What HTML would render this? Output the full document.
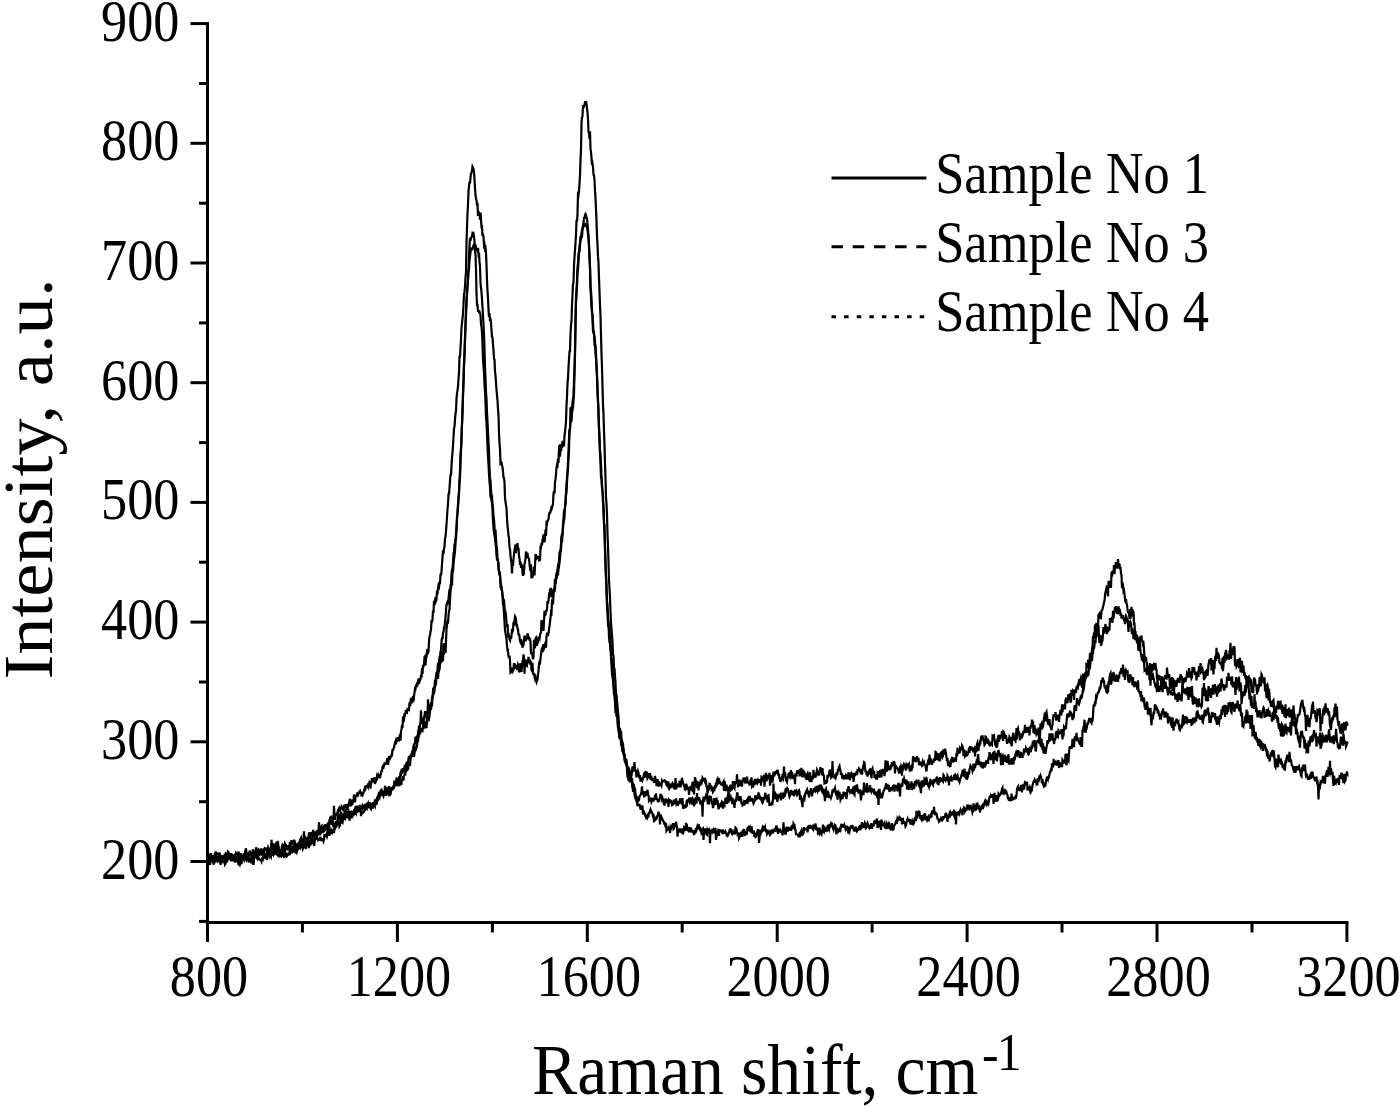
<!DOCTYPE html>
<html><head><meta charset="utf-8"><title>Raman spectra</title>
<style>
html,body{margin:0;padding:0;background:#fff;}
body{width:1400px;height:1107px;overflow:hidden;}
svg{display:block;}
text{font-family:"Liberation Serif","Times New Roman",serif;fill:#000;}
</style></head><body>
<svg width="1400" height="1107" viewBox="0 0 1400 1107">
<rect width="1400" height="1107" fill="#fff"/>
<g fill="none" stroke="#000" stroke-width="2.2" stroke-linejoin="miter">
<polyline points="207.5,861.6 208.0,860.6 208.5,860.3 209.0,862.4 209.5,861.8 210.0,864.8 210.5,860.3 211.0,860.3 211.5,860.6 212.0,859.4 212.5,862.3 213.0,858.7 213.5,858.2 214.0,858.3 214.5,855.7 215.0,856.9 215.5,858.9 216.0,855.6 216.5,856.2 217.0,859.2 217.5,858.5 218.0,858.4 218.5,859.2 219.0,858.4 219.5,860.6 220.0,860.4 220.5,864.9 221.0,862.3 221.5,858.5 222.0,861.3 222.5,861.1 223.0,858.4 223.5,859.7 224.0,861.7 224.5,856.8 225.0,857.6 225.5,859.5 226.0,860.0 226.5,856.0 227.0,859.6 227.5,856.9 228.0,859.8 228.5,858.1 229.0,857.0 229.5,858.6 230.0,858.6 230.5,856.8 231.0,861.4 231.5,858.1 232.0,860.4 232.5,858.3 233.0,856.6 233.5,855.1 234.0,859.5 234.5,860.8 235.0,862.5 235.5,860.2 236.0,859.9 236.5,858.8 237.0,860.9 237.5,861.8 238.0,858.3 238.5,863.5 239.0,862.9 239.5,864.0 240.0,858.6 240.5,859.3 241.0,858.7 241.5,856.3 242.0,856.7 242.5,856.4 243.0,858.5 243.5,858.4 244.0,859.8 244.5,857.4 245.0,856.3 245.5,859.4 246.0,859.8 246.5,860.5 247.0,858.2 247.5,858.8 248.0,860.8 248.5,858.0 249.0,859.7 249.5,860.7 250.0,859.9 250.5,860.9 251.0,859.0 251.5,860.4 252.0,861.6 252.5,859.0 253.0,858.7 253.5,864.8 254.0,858.3 254.5,855.8 255.0,855.0 255.5,858.3 256.0,851.9 256.5,855.5 257.0,857.1 257.5,855.6 258.0,857.8 258.5,860.1 259.0,858.4 259.5,859.2 260.0,859.7 260.5,860.2 261.0,860.1 261.5,861.4 262.0,858.9 262.5,857.8 263.0,858.9 263.5,857.0 264.0,854.7 264.5,853.8 265.0,855.6 265.5,856.5 266.0,854.9 266.5,855.1 267.0,860.0 267.5,857.3 268.0,855.2 268.5,854.4 269.0,857.1 269.5,853.4 270.0,856.2 270.5,855.1 271.0,856.4 271.5,853.2 272.0,855.6 272.5,851.3 273.0,853.4 273.5,854.7 274.0,853.6 274.5,849.3 275.0,852.8 275.5,852.4 276.0,851.5 276.5,851.1 277.0,852.2 277.5,852.2 278.0,855.1 278.5,854.7 279.0,855.9 279.5,854.8 280.0,852.3 280.5,854.3 281.0,857.4 281.5,852.6 282.0,855.0 282.5,853.8 283.0,853.9 283.5,851.8 284.0,856.7 284.5,856.4 285.0,850.7 285.5,856.5 286.0,852.6 286.5,856.5 287.0,856.0 287.5,855.0 288.0,854.9 288.5,853.0 289.0,855.4 289.5,851.8 290.0,850.1 290.5,852.0 291.0,850.8 291.5,851.3 292.0,853.3 292.5,850.2 293.0,849.9 293.5,852.6 294.0,846.5 294.5,849.1 295.0,850.6 295.5,851.7 296.0,853.5 296.5,849.4 297.0,851.6 297.5,850.1 298.0,849.2 298.5,847.9 299.0,846.0 299.5,848.1 300.0,848.4 300.5,845.4 301.0,848.3 301.5,846.3 302.0,845.5 302.5,842.8 303.0,848.4 303.5,847.3 304.0,845.3 304.5,842.1 305.0,842.6 305.5,844.9 306.0,843.4 306.5,843.8 307.0,842.8 307.5,840.1 308.0,838.9 308.5,843.2 309.0,839.9 309.5,845.0 310.0,843.8 310.5,845.5 311.0,842.7 311.5,840.9 312.0,841.2 312.5,838.9 313.0,839.6 313.5,840.1 314.0,842.3 314.5,840.5 315.0,840.1 315.5,837.1 316.0,839.6 316.5,837.8 317.0,838.6 317.5,839.1 318.0,840.1 318.5,839.4 319.0,838.7 319.5,838.2 320.0,840.6 320.5,837.0 321.0,838.6 321.5,840.9 322.0,838.3 322.5,839.9 323.0,839.8 323.5,841.2 324.0,839.2 324.5,834.0 325.0,836.0 325.5,835.8 326.0,835.9 326.5,834.4 327.0,836.3 327.5,834.5 328.0,830.5 328.5,831.4 329.0,829.2 329.5,835.8 330.0,832.9 330.5,832.8 331.0,830.2 331.5,831.7 332.0,832.6 332.5,830.6 333.0,830.1 333.5,829.3 334.0,833.2 334.5,828.4 335.0,826.2 335.5,827.2 336.0,826.0 336.5,826.3 337.0,825.1 337.5,822.8 338.0,823.7 338.5,824.2 339.0,820.7 339.5,826.3 340.0,825.4 340.5,818.7 341.0,820.6 341.5,822.4 342.0,822.4 342.5,822.8 343.0,816.3 343.5,817.6 344.0,818.5 344.5,820.0 345.0,816.4 345.5,818.0 346.0,816.7 346.5,815.9 347.0,811.2 347.5,813.0 348.0,812.2 348.5,811.0 349.0,814.0 349.5,811.4 350.0,814.9 350.5,811.9 351.0,816.7 351.5,817.1 352.0,812.9 352.5,814.8 353.0,814.5 353.5,811.7 354.0,814.5 354.5,814.0 355.0,811.2 355.5,812.7 356.0,813.7 356.5,811.1 357.0,809.1 357.5,812.3 358.0,806.5 358.5,808.2 359.0,805.4 359.5,811.9 360.0,804.9 360.5,808.8 361.0,816.1 361.5,811.3 362.0,813.5 362.5,813.4 363.0,812.2 363.5,811.5 364.0,811.7 364.5,810.8 365.0,803.9 365.5,810.4 366.0,804.8 366.5,807.1 367.0,802.6 367.5,804.8 368.0,803.7 368.5,808.2 369.0,806.3 369.5,806.4 370.0,806.1 370.5,807.1 371.0,804.5 371.5,804.9 372.0,804.3 372.5,807.1 373.0,805.4 373.5,804.1 374.0,805.4 374.5,805.2 375.0,806.2 375.5,801.7 376.0,802.7 376.5,805.0 377.0,799.6 377.5,798.5 378.0,799.1 378.5,796.1 379.0,795.9 379.5,794.1 380.0,792.9 380.5,795.7 381.0,793.1 381.5,791.8 382.0,793.2 382.5,793.6 383.0,794.7 383.5,796.2 384.0,794.9 384.5,792.5 385.0,794.5 385.5,791.3 386.0,794.9 386.5,795.0 387.0,792.2 387.5,791.3 388.0,790.9 388.5,789.8 389.0,793.9 389.5,796.3 390.0,790.0 390.5,795.1 391.0,790.3 391.5,786.8 392.0,789.6 392.5,789.1 393.0,787.7 393.5,785.8 394.0,788.9 394.5,784.4 395.0,785.5 395.5,784.9 396.0,781.2 396.5,778.8 397.0,779.3 397.5,781.2 398.0,782.8 398.5,778.8 399.0,781.3 399.5,786.2 400.0,779.8 400.5,784.2 401.0,783.7 401.5,783.8 402.0,778.3 402.5,780.8 403.0,776.0 403.5,780.3 404.0,774.5 404.5,775.8 405.0,772.1 405.5,772.8 406.0,768.2 406.5,770.8 407.0,770.3 407.5,767.9 408.0,770.1 408.5,766.3 409.0,761.9 409.5,764.2 410.0,765.8 410.5,758.8 411.0,757.9 411.5,755.1 412.0,755.4 412.5,752.2 413.0,751.1 413.5,747.8 414.0,744.3 414.5,743.8 415.0,743.7 415.5,736.5 416.0,743.4 416.5,737.6 417.0,736.5 417.5,736.3 418.0,733.6 418.5,729.6 419.0,731.2 419.5,734.0 420.0,732.6 420.5,732.5 421.0,727.9 421.5,729.4 422.0,730.4 422.5,730.8 423.0,726.8 423.5,723.9 424.0,721.2 424.5,728.7 425.0,721.5 425.5,725.6 426.0,725.9 426.5,728.1 427.0,721.8 427.5,719.6 428.0,719.5 428.5,718.2 429.0,718.9 429.5,716.1 430.0,711.2 430.5,706.2 431.0,709.9 431.5,704.7 432.0,706.5 432.5,696.0 433.0,696.0 433.5,690.2 434.0,693.8 434.5,691.0 435.0,685.1 435.5,682.3 436.0,683.1 436.5,677.5 437.0,676.8 437.5,674.2 438.0,679.0 438.5,672.4 439.0,670.8 439.5,669.8 440.0,664.3 440.5,662.7 441.0,650.8 441.5,662.1 442.0,660.7 442.5,658.0 443.0,661.2 443.5,643.3 444.0,654.8 444.5,646.6 445.0,643.2 445.5,652.9 446.0,640.8 446.5,629.2 447.0,625.0 447.5,619.8 448.0,623.6 448.5,615.6 449.0,610.8 449.5,610.2 450.0,600.8 450.5,589.3 451.0,588.5 451.5,581.5 452.0,585.4 452.5,571.3 453.0,571.3 453.5,564.3 454.0,559.5 454.5,555.4 455.0,551.9 455.5,541.2 456.0,533.0 456.5,527.7 457.0,519.4 457.5,512.3 458.0,507.5 458.5,498.9 459.0,492.5 459.5,481.8 460.0,478.2 460.5,460.7 461.0,448.8 461.5,441.8 462.0,423.4 462.5,411.3 463.0,393.2 463.5,380.0 464.0,363.7 464.5,352.5 465.0,337.4 465.5,323.5 466.0,311.2 466.5,303.8 467.0,291.8 467.5,286.0 468.0,278.2 468.5,270.0 469.0,269.8 469.5,260.3 470.0,256.5 470.5,252.3 471.0,249.0 471.5,249.5 472.0,249.3 472.5,247.9 473.0,247.0 473.5,245.7 474.0,243.7 474.5,247.4 475.0,251.9 475.5,253.9 476.0,269.3 476.5,292.7 477.0,305.0 477.5,304.9 478.0,310.8 478.5,310.8 479.0,311.9 479.5,311.6 480.0,313.5 480.5,314.8 481.0,323.8 481.5,327.2 482.0,332.1 482.5,343.3 483.0,358.9 483.5,366.4 484.0,372.4 484.5,384.3 485.0,391.1 485.5,401.8 486.0,417.2 486.5,422.9 487.0,433.0 487.5,446.3 488.0,456.7 488.5,464.0 489.0,474.3 489.5,481.8 490.0,486.3 490.5,497.6 491.0,493.4 491.5,501.8 492.0,495.2 492.5,510.6 493.0,521.3 493.5,527.3 494.0,532.3 494.5,535.2 495.0,538.4 495.5,542.9 496.0,547.3 496.5,555.1 497.0,559.7 497.5,560.4 498.0,561.3 498.5,564.0 499.0,571.3 499.5,573.9 500.0,573.5 500.5,586.0 501.0,585.7 501.5,588.4 502.0,590.6 502.5,594.9 503.0,604.7 503.5,605.4 504.0,614.3 504.5,622.0 505.0,630.1 505.5,633.0 506.0,635.6 506.5,638.5 507.0,646.0 507.5,650.3 508.0,650.1 508.5,656.3 509.0,657.1 509.5,655.7 510.0,660.3 510.5,672.8 511.0,672.4 511.5,671.2 512.0,669.3 512.5,667.8 513.0,670.7 513.5,669.4 514.0,663.1 514.5,668.3 515.0,663.7 515.5,667.0 516.0,666.5 516.5,667.3 517.0,668.8 517.5,668.5 518.0,664.6 518.5,665.7 519.0,672.2 519.5,671.1 520.0,665.3 520.5,663.3 521.0,669.9 521.5,671.9 522.0,666.3 522.5,661.8 523.0,662.1 523.5,654.4 524.0,658.0 524.5,673.6 525.0,664.4 525.5,659.3 526.0,666.7 526.5,665.0 527.0,665.5 527.5,661.3 528.0,660.7 528.5,657.0 529.0,660.8 529.5,663.3 530.0,659.7 530.5,665.0 531.0,661.4 531.5,669.9 532.0,670.9 532.5,662.8 533.0,671.9 533.5,675.2 534.0,673.1 534.5,676.5 535.0,678.7 535.5,677.4 536.0,680.7 536.5,682.1 537.0,680.0 537.5,679.9 538.0,674.7 538.5,671.1 539.0,664.0 539.5,662.1 540.0,662.7 540.5,659.1 541.0,654.4 541.5,650.0 542.0,648.8 542.5,651.3 543.0,651.2 543.5,644.2 544.0,648.9 544.5,647.9 545.0,646.2 545.5,641.9 546.0,647.8 546.5,636.3 547.0,633.7 547.5,633.7 548.0,636.1 548.5,633.2 549.0,629.6 549.5,626.1 550.0,622.1 550.5,617.7 551.0,612.4 551.5,613.1 552.0,601.8 552.5,602.6 553.0,604.4 553.5,595.0 554.0,589.9 554.5,592.2 555.0,588.3 555.5,581.5 556.0,577.2 556.5,575.4 557.0,572.3 557.5,569.8 558.0,565.6 558.5,566.0 559.0,559.8 559.5,553.0 560.0,550.8 560.5,550.6 561.0,543.8 561.5,535.6 562.0,542.2 562.5,535.1 563.0,527.8 563.5,522.8 564.0,520.5 564.5,517.5 565.0,506.6 565.5,504.1 566.0,495.7 566.5,492.5 567.0,482.1 567.5,473.0 568.0,470.0 568.5,457.8 569.0,449.7 569.5,430.8 570.0,429.6 570.5,420.5 571.0,419.6 571.5,410.0 572.0,411.0 572.5,402.5 573.0,398.7 573.5,396.1 574.0,380.4 574.5,369.7 575.0,354.1 575.5,317.4 576.0,299.0 576.5,288.9 577.0,281.1 577.5,267.4 578.0,262.9 578.5,254.4 579.0,251.9 579.5,251.4 580.0,245.3 580.5,240.2 581.0,237.3 581.5,233.0 582.0,230.6 582.5,227.8 583.0,225.7 583.5,227.2 584.0,223.4 584.5,225.4 585.0,225.6 585.5,224.4 586.0,224.9 586.5,223.6 587.0,227.4 587.5,230.1 588.0,234.1 588.5,237.2 589.0,244.4 589.5,257.1 590.0,268.4 590.5,287.1 591.0,298.0 591.5,306.4 592.0,310.0 592.5,318.5 593.0,331.4 593.5,332.5 594.0,332.3 594.5,342.3 595.0,341.4 595.5,353.3 596.0,358.3 596.5,365.5 597.0,375.7 597.5,386.8 598.0,398.8 598.5,416.0 599.0,427.7 599.5,439.7 600.0,452.8 600.5,463.1 601.0,477.4 601.5,478.8 602.0,487.8 602.5,490.8 603.0,495.7 603.5,511.6 604.0,524.4 604.5,524.9 605.0,543.8 605.5,563.1 606.0,576.5 606.5,584.7 607.0,606.7 607.5,613.4 608.0,624.1 608.5,623.6 609.0,636.9 609.5,642.2 610.0,642.1 610.5,650.3 611.0,652.2 611.5,657.7 612.0,662.0 612.5,668.9 613.0,673.9 613.5,684.5 614.0,686.4 614.5,689.4 615.0,700.6 615.5,702.9 616.0,708.0 616.5,709.4 617.0,715.2 617.5,717.3 618.0,719.3 618.5,726.1 619.0,730.3 619.5,734.0 620.0,738.9 620.5,735.5 621.0,742.5 621.5,741.5 622.0,744.6 622.5,752.0 623.0,748.5 623.5,748.6 624.0,753.8 624.5,754.0 625.0,758.2 625.5,760.9 626.0,759.5 626.5,759.9 627.0,764.6 627.5,768.3 628.0,769.2 628.5,767.8 629.0,768.3 629.5,771.4 630.0,772.8 630.5,777.6 631.0,778.1 631.5,781.9 632.0,782.1 632.5,788.1 633.0,786.9 633.5,790.2 634.0,790.2 634.5,793.9 635.0,797.1 635.5,798.3 636.0,794.8 636.5,798.9 637.0,802.5 637.5,806.2 638.0,804.5 638.5,804.5 639.0,804.9 639.5,804.7 640.0,806.3 640.5,809.7 641.0,807.4 641.5,806.9 642.0,806.2 642.5,806.5 643.0,814.5 643.5,810.4 644.0,812.8 644.5,813.0 645.0,815.3 645.5,815.0 646.0,816.5 646.5,819.3 647.0,815.0 647.5,816.9 648.0,815.1 648.5,815.7 649.0,812.2 649.5,813.7 650.0,810.8 650.5,809.3 651.0,810.6 651.5,811.9 652.0,812.2 652.5,814.3 653.0,817.6 653.5,813.9 654.0,822.3 654.5,817.7 655.0,820.3 655.5,816.7 656.0,819.3 656.5,818.9 657.0,816.5 657.5,815.7 658.0,814.8 658.5,811.7 659.0,814.2 659.5,815.1 660.0,824.5 660.5,814.2 661.0,816.0 661.5,818.7 662.0,818.2 662.5,819.3 663.0,820.8 663.5,821.2 664.0,822.8 664.5,824.8 665.0,822.2 665.5,827.3 666.0,823.1 666.5,830.8 667.0,829.9 667.5,827.3 668.0,830.2 668.5,827.8 669.0,828.6 669.5,828.9 670.0,833.0 670.5,827.2 671.0,828.2 671.5,826.6 672.0,826.2 672.5,825.0 673.0,823.2 673.5,829.0 674.0,828.5 674.5,823.0 675.0,826.1 675.5,825.8 676.0,821.8 676.5,824.9 677.0,827.0 677.5,836.6 678.0,830.8 678.5,831.8 679.0,830.6 679.5,832.2 680.0,828.4 680.5,831.8 681.0,832.0 681.5,828.4 682.0,831.0 682.5,833.0 683.0,833.4 683.5,832.1 684.0,827.9 684.5,828.7 685.0,827.8 685.5,831.0 686.0,822.9 686.5,827.2 687.0,826.4 687.5,829.9 688.0,830.5 688.5,828.3 689.0,828.7 689.5,829.7 690.0,832.3 690.5,827.2 691.0,829.2 691.5,829.5 692.0,830.0 692.5,831.9 693.0,831.7 693.5,831.4 694.0,834.1 694.5,833.8 695.0,832.1 695.5,831.6 696.0,828.2 696.5,829.6 697.0,827.0 697.5,825.7 698.0,826.9 698.5,824.3 699.0,826.1 699.5,827.3 700.0,829.4 700.5,828.8 701.0,830.5 701.5,833.0 702.0,832.1 702.5,829.1 703.0,828.6 703.5,839.9 704.0,831.1 704.5,829.4 705.0,829.7 705.5,829.5 706.0,831.1 706.5,834.5 707.0,834.9 707.5,830.1 708.0,831.2 708.5,829.7 709.0,829.3 709.5,832.0 710.0,843.2 710.5,830.4 711.0,832.0 711.5,829.7 712.0,831.8 712.5,828.7 713.0,831.3 713.5,830.0 714.0,831.4 714.5,833.3 715.0,830.7 715.5,827.9 716.0,840.0 716.5,834.1 717.0,834.9 717.5,832.4 718.0,831.0 718.5,832.3 719.0,835.8 719.5,829.2 720.0,832.0 720.5,830.5 721.0,830.5 721.5,830.6 722.0,831.2 722.5,834.0 723.0,829.5 723.5,831.8 724.0,832.8 724.5,832.5 725.0,832.8 725.5,831.6 726.0,832.9 726.5,834.2 727.0,836.6 727.5,833.0 728.0,834.9 728.5,833.8 729.0,832.5 729.5,830.7 730.0,831.1 730.5,828.3 731.0,831.9 731.5,832.8 732.0,831.8 732.5,834.0 733.0,833.5 733.5,831.1 734.0,833.1 734.5,829.7 735.0,834.3 735.5,827.7 736.0,828.2 736.5,829.0 737.0,831.4 737.5,834.0 738.0,833.2 738.5,833.3 739.0,838.2 739.5,837.1 740.0,834.8 740.5,835.0 741.0,832.0 741.5,834.3 742.0,836.8 742.5,831.3 743.0,830.7 743.5,833.4 744.0,829.1 744.5,836.1 745.0,831.0 745.5,832.4 746.0,833.1 746.5,835.1 747.0,832.9 747.5,828.1 748.0,827.7 748.5,830.4 749.0,825.7 749.5,828.7 750.0,827.7 750.5,831.0 751.0,832.3 751.5,826.4 752.0,829.0 752.5,833.8 753.0,832.1 753.5,833.1 754.0,832.5 754.5,836.9 755.0,835.6 755.5,837.0 756.0,836.7 756.5,833.2 757.0,832.1 757.5,835.5 758.0,829.1 758.5,831.9 759.0,842.9 759.5,838.3 760.0,832.3 760.5,833.1 761.0,829.9 761.5,831.4 762.0,830.0 762.5,828.0 763.0,829.5 763.5,828.1 764.0,829.3 764.5,828.3 765.0,827.0 765.5,830.1 766.0,831.9 766.5,829.4 767.0,833.7 767.5,832.6 768.0,831.6 768.5,832.9 769.0,832.5 769.5,831.8 770.0,834.9 770.5,834.4 771.0,831.3 771.5,831.1 772.0,830.6 772.5,832.0 773.0,833.3 773.5,829.2 774.0,830.7 774.5,829.7 775.0,830.4 775.5,831.7 776.0,827.5 776.5,825.6 777.0,829.5 777.5,827.5 778.0,833.9 778.5,829.9 779.0,829.8 779.5,831.5 780.0,831.3 780.5,830.2 781.0,831.1 781.5,833.1 782.0,831.2 782.5,835.3 783.0,832.6 783.5,822.2 784.0,833.1 784.5,827.9 785.0,831.4 785.5,834.7 786.0,832.3 786.5,828.0 787.0,828.3 787.5,826.8 788.0,831.6 788.5,827.2 789.0,830.3 789.5,828.6 790.0,827.8 790.5,827.6 791.0,830.8 791.5,829.0 792.0,824.9 792.5,828.1 793.0,827.8 793.5,823.5 794.0,824.5 794.5,824.9 795.0,829.3 795.5,830.0 796.0,834.1 796.5,834.2 797.0,834.3 797.5,834.7 798.0,835.5 798.5,836.0 799.0,837.4 799.5,834.2 800.0,834.9 800.5,833.0 801.0,834.7 801.5,833.8 802.0,830.6 802.5,831.8 803.0,834.0 803.5,833.2 804.0,827.1 804.5,830.4 805.0,829.0 805.5,829.4 806.0,829.4 806.5,829.5 807.0,828.6 807.5,832.4 808.0,829.1 808.5,826.1 809.0,825.9 809.5,826.0 810.0,825.9 810.5,828.9 811.0,825.6 811.5,827.3 812.0,827.4 812.5,828.3 813.0,826.8 813.5,828.4 814.0,826.1 814.5,826.4 815.0,827.3 815.5,823.4 816.0,827.2 816.5,829.9 817.0,828.1 817.5,828.4 818.0,833.3 818.5,832.9 819.0,833.6 819.5,827.6 820.0,832.5 820.5,831.5 821.0,833.0 821.5,834.0 822.0,830.8 822.5,830.0 823.0,824.7 823.5,831.1 824.0,832.0 824.5,830.2 825.0,828.5 825.5,829.8 826.0,830.5 826.5,829.3 827.0,831.6 827.5,826.4 828.0,824.8 828.5,828.1 829.0,829.3 829.5,825.8 830.0,826.3 830.5,824.7 831.0,823.4 831.5,824.5 832.0,822.5 832.5,827.5 833.0,828.4 833.5,829.7 834.0,826.7 834.5,827.0 835.0,825.0 835.5,825.5 836.0,830.2 836.5,834.3 837.0,827.8 837.5,829.7 838.0,832.7 838.5,829.8 839.0,831.8 839.5,829.4 840.0,828.3 840.5,829.5 841.0,826.3 841.5,823.8 842.0,827.5 842.5,826.0 843.0,825.2 843.5,824.9 844.0,827.8 844.5,825.6 845.0,827.3 845.5,829.0 846.0,827.1 846.5,829.7 847.0,825.6 847.5,830.0 848.0,830.6 848.5,833.5 849.0,830.2 849.5,831.5 850.0,828.9 850.5,826.5 851.0,826.1 851.5,825.9 852.0,828.5 852.5,825.6 853.0,827.3 853.5,829.3 854.0,830.3 854.5,830.1 855.0,831.3 855.5,826.5 856.0,827.9 856.5,829.5 857.0,831.2 857.5,830.3 858.0,828.0 858.5,829.7 859.0,826.2 859.5,830.4 860.0,824.8 860.5,827.7 861.0,828.5 861.5,827.5 862.0,822.1 862.5,825.2 863.0,824.0 863.5,824.2 864.0,828.1 864.5,825.9 865.0,823.0 865.5,824.1 866.0,827.8 866.5,827.1 867.0,824.5 867.5,823.3 868.0,825.3 868.5,826.7 869.0,827.6 869.5,825.0 870.0,827.5 870.5,828.7 871.0,823.4 871.5,825.1 872.0,828.9 872.5,824.7 873.0,825.0 873.5,826.4 874.0,822.6 874.5,822.8 875.0,820.0 875.5,824.0 876.0,821.9 876.5,822.3 877.0,818.5 877.5,828.0 878.0,825.6 878.5,823.2 879.0,827.3 879.5,820.5 880.0,825.1 880.5,821.9 881.0,830.0 881.5,819.6 882.0,822.1 882.5,822.7 883.0,825.5 883.5,825.5 884.0,824.6 884.5,823.5 885.0,828.3 885.5,823.3 886.0,825.8 886.5,829.1 887.0,823.9 887.5,824.9 888.0,828.4 888.5,824.6 889.0,823.3 889.5,824.4 890.0,829.6 890.5,825.6 891.0,828.2 891.5,827.4 892.0,823.0 892.5,830.7 893.0,829.3 893.5,829.1 894.0,825.7 894.5,825.1 895.0,824.3 895.5,823.8 896.0,821.5 896.5,820.6 897.0,823.7 897.5,818.7 898.0,819.7 898.5,819.5 899.0,818.8 899.5,817.1 900.0,817.7 900.5,820.8 901.0,818.9 901.5,818.9 902.0,824.4 902.5,819.4 903.0,819.1 903.5,823.9 904.0,820.9 904.5,822.9 905.0,823.0 905.5,826.3 906.0,825.4 906.5,822.8 907.0,820.7 907.5,819.2 908.0,821.6 908.5,818.7 909.0,820.7 909.5,820.5 910.0,821.7 910.5,824.6 911.0,821.6 911.5,822.4 912.0,821.1 912.5,823.3 913.0,822.7 913.5,824.0 914.0,823.4 914.5,819.0 915.0,817.0 915.5,820.3 916.0,820.2 916.5,810.7 917.0,818.5 917.5,814.6 918.0,813.6 918.5,814.3 919.0,811.5 919.5,811.7 920.0,818.7 920.5,815.2 921.0,818.7 921.5,819.6 922.0,815.0 922.5,818.5 923.0,820.7 923.5,814.4 924.0,817.6 924.5,814.9 925.0,813.3 925.5,819.3 926.0,819.4 926.5,816.7 927.0,816.8 927.5,820.6 928.0,820.1 928.5,817.4 929.0,818.8 929.5,817.0 930.0,816.1 930.5,817.9 931.0,815.8 931.5,817.5 932.0,810.6 932.5,814.0 933.0,810.5 933.5,814.2 934.0,806.8 934.5,813.7 935.0,811.6 935.5,815.3 936.0,813.1 936.5,813.5 937.0,816.0 937.5,818.7 938.0,819.1 938.5,819.5 939.0,821.6 939.5,821.0 940.0,818.7 940.5,821.1 941.0,818.9 941.5,820.2 942.0,820.5 942.5,819.1 943.0,816.1 943.5,818.4 944.0,817.6 944.5,817.3 945.0,816.1 945.5,814.2 946.0,812.8 946.5,816.9 947.0,816.9 947.5,821.8 948.0,814.6 948.5,818.3 949.0,815.6 949.5,813.7 950.0,815.0 950.5,812.9 951.0,814.3 951.5,813.4 952.0,814.1 952.5,813.4 953.0,812.5 953.5,814.4 954.0,815.6 954.5,811.6 955.0,812.4 955.5,811.4 956.0,824.5 956.5,813.5 957.0,815.7 957.5,812.2 958.0,815.2 958.5,812.0 959.0,811.8 959.5,813.3 960.0,810.8 960.5,809.7 961.0,812.2 961.5,809.9 962.0,812.4 962.5,815.2 963.0,809.7 963.5,809.8 964.0,807.5 964.5,808.0 965.0,811.3 965.5,810.3 966.0,809.8 966.5,809.8 967.0,806.8 967.5,804.6 968.0,809.6 968.5,807.1 969.0,808.2 969.5,805.4 970.0,807.0 970.5,804.9 971.0,806.8 971.5,807.6 972.0,809.7 972.5,812.5 973.0,811.1 973.5,803.4 974.0,808.5 974.5,808.1 975.0,809.1 975.5,807.2 976.0,808.1 976.5,804.7 977.0,805.4 977.5,804.6 978.0,809.1 978.5,807.6 979.0,806.9 979.5,809.4 980.0,812.5 980.5,808.2 981.0,809.0 981.5,808.7 982.0,806.5 982.5,807.0 983.0,805.2 983.5,806.7 984.0,805.3 984.5,805.1 985.0,801.1 985.5,800.0 986.0,800.5 986.5,802.0 987.0,804.5 987.5,803.6 988.0,802.2 988.5,803.4 989.0,800.3 989.5,797.1 990.0,796.9 990.5,795.7 991.0,797.8 991.5,795.7 992.0,796.0 992.5,795.4 993.0,794.3 993.5,803.8 994.0,801.0 994.5,792.9 995.0,801.1 995.5,799.0 996.0,795.2 996.5,801.9 997.0,798.8 997.5,798.7 998.0,799.1 998.5,794.1 999.0,795.0 999.5,795.7 1000.0,794.7 1000.5,793.7 1001.0,792.6 1001.5,794.6 1002.0,788.8 1002.5,787.8 1003.0,794.4 1003.5,791.2 1004.0,792.6 1004.5,790.8 1005.0,790.0 1005.5,790.5 1006.0,792.7 1006.5,792.3 1007.0,794.2 1007.5,795.2 1008.0,798.2 1008.5,798.8 1009.0,800.8 1009.5,797.2 1010.0,798.9 1010.5,800.2 1011.0,799.8 1011.5,793.6 1012.0,799.7 1012.5,799.5 1013.0,798.7 1013.5,798.9 1014.0,798.0 1014.5,798.7 1015.0,798.5 1015.5,796.8 1016.0,797.2 1016.5,795.1 1017.0,789.4 1017.5,787.5 1018.0,786.6 1018.5,790.0 1019.0,788.1 1019.5,791.0 1020.0,789.4 1020.5,787.7 1021.0,785.0 1021.5,786.9 1022.0,792.3 1022.5,785.6 1023.0,785.2 1023.5,786.4 1024.0,789.6 1024.5,785.7 1025.0,782.4 1025.5,782.8 1026.0,783.5 1026.5,783.9 1027.0,781.7 1027.5,790.5 1028.0,788.9 1028.5,788.4 1029.0,788.1 1029.5,787.2 1030.0,791.1 1030.5,792.5 1031.0,791.6 1031.5,788.6 1032.0,789.2 1032.5,785.5 1033.0,783.7 1033.5,781.8 1034.0,781.1 1034.5,780.0 1035.0,782.4 1035.5,780.4 1036.0,780.7 1036.5,783.7 1037.0,782.8 1037.5,783.4 1038.0,778.2 1038.5,782.2 1039.0,778.3 1039.5,775.5 1040.0,777.7 1040.5,775.6 1041.0,776.9 1041.5,779.2 1042.0,783.4 1042.5,779.0 1043.0,784.0 1043.5,783.7 1044.0,786.4 1044.5,785.9 1045.0,785.9 1045.5,785.6 1046.0,781.0 1046.5,779.0 1047.0,777.6 1047.5,777.8 1048.0,779.3 1048.5,777.1 1049.0,777.2 1049.5,774.1 1050.0,772.1 1050.5,771.9 1051.0,768.4 1051.5,771.1 1052.0,763.3 1052.5,765.5 1053.0,765.9 1053.5,761.7 1054.0,762.9 1054.5,760.8 1055.0,761.4 1055.5,764.6 1056.0,761.4 1056.5,765.6 1057.0,763.4 1057.5,765.0 1058.0,762.5 1058.5,760.1 1059.0,768.0 1059.5,765.2 1060.0,762.3 1060.5,764.8 1061.0,766.8 1061.5,763.3 1062.0,767.1 1062.5,759.8 1063.0,760.6 1063.5,763.6 1064.0,761.8 1064.5,759.9 1065.0,762.8 1065.5,753.7 1066.0,762.3 1066.5,765.2 1067.0,760.2 1067.5,753.3 1068.0,759.8 1068.5,760.7 1069.0,753.7 1069.5,747.6 1070.0,747.0 1070.5,747.1 1071.0,746.9 1071.5,748.8 1072.0,746.6 1072.5,738.7 1073.0,743.2 1073.5,742.9 1074.0,747.2 1074.5,739.7 1075.0,736.5 1075.5,738.3 1076.0,739.0 1076.5,732.9 1077.0,740.5 1077.5,737.5 1078.0,740.6 1078.5,740.8 1079.0,741.0 1079.5,743.6 1080.0,744.2 1080.5,738.0 1081.0,737.9 1081.5,739.4 1082.0,746.9 1082.5,731.2 1083.0,731.2 1083.5,727.0 1084.0,726.9 1084.5,719.7 1085.0,728.0 1085.5,732.8 1086.0,729.6 1086.5,729.0 1087.0,726.6 1087.5,722.4 1088.0,724.2 1088.5,721.4 1089.0,719.7 1089.5,720.2 1090.0,717.9 1090.5,720.3 1091.0,722.1 1091.5,723.0 1092.0,719.8 1092.5,720.2 1093.0,716.1 1093.5,706.4 1094.0,704.4 1094.5,706.6 1095.0,701.4 1095.5,704.3 1096.0,697.0 1096.5,698.0 1097.0,695.9 1097.5,693.6 1098.0,692.4 1098.5,692.5 1099.0,691.5 1099.5,688.2 1100.0,688.6 1100.5,687.8 1101.0,683.5 1101.5,680.1 1102.0,682.9 1102.5,678.7 1103.0,678.7 1103.5,681.3 1104.0,681.3 1104.5,687.3 1105.0,685.5 1105.5,688.6 1106.0,689.6 1106.5,692.3 1107.0,692.6 1107.5,684.3 1108.0,692.8 1108.5,681.6 1109.0,682.8 1109.5,678.3 1110.0,674.3 1110.5,673.3 1111.0,684.7 1111.5,682.7 1112.0,674.3 1112.5,673.2 1113.0,680.6 1113.5,672.0 1114.0,676.2 1114.5,681.4 1115.0,678.1 1115.5,681.7 1116.0,679.1 1116.5,674.4 1117.0,678.2 1117.5,675.5 1118.0,681.9 1118.5,675.6 1119.0,678.5 1119.5,674.4 1120.0,671.8 1120.5,674.1 1121.0,669.7 1121.5,668.1 1122.0,674.1 1122.5,671.3 1123.0,664.6 1123.5,676.8 1124.0,668.8 1124.5,674.5 1125.0,680.0 1125.5,672.6 1126.0,670.5 1126.5,672.0 1127.0,672.1 1127.5,670.2 1128.0,677.5 1128.5,682.1 1129.0,674.9 1129.5,682.9 1130.0,676.7 1130.5,674.3 1131.0,678.9 1131.5,678.6 1132.0,678.3 1132.5,685.1 1133.0,677.2 1133.5,684.5 1134.0,684.3 1134.5,687.2 1135.0,682.9 1135.5,682.5 1136.0,683.0 1136.5,684.7 1137.0,687.0 1137.5,689.9 1138.0,680.2 1138.5,691.0 1139.0,691.0 1139.5,692.3 1140.0,691.0 1140.5,697.0 1141.0,691.1 1141.5,701.5 1142.0,695.1 1142.5,698.2 1143.0,698.9 1143.5,702.3 1144.0,697.5 1144.5,705.6 1145.0,705.3 1145.5,709.8 1146.0,706.7 1146.5,706.2 1147.0,701.7 1147.5,705.3 1148.0,714.7 1148.5,709.1 1149.0,709.8 1149.5,711.6 1150.0,715.4 1150.5,707.9 1151.0,719.6 1151.5,725.3 1152.0,717.2 1152.5,714.9 1153.0,719.4 1153.5,711.7 1154.0,714.0 1154.5,710.1 1155.0,704.4 1155.5,707.1 1156.0,709.7 1156.5,707.4 1157.0,708.4 1157.5,711.3 1158.0,710.5 1158.5,711.4 1159.0,716.1 1159.5,713.5 1160.0,718.0 1160.5,717.6 1161.0,718.2 1161.5,715.9 1162.0,711.1 1162.5,712.9 1163.0,708.3 1163.5,713.7 1164.0,711.5 1164.5,717.7 1165.0,711.7 1165.5,714.5 1166.0,711.7 1166.5,716.3 1167.0,717.0 1167.5,713.0 1168.0,723.4 1168.5,720.5 1169.0,716.3 1169.5,719.4 1170.0,718.0 1170.5,718.6 1171.0,725.3 1171.5,720.0 1172.0,727.9 1172.5,717.2 1173.0,725.0 1173.5,730.6 1174.0,723.1 1174.5,723.1 1175.0,726.1 1175.5,720.7 1176.0,722.9 1176.5,718.7 1177.0,720.4 1177.5,722.7 1178.0,723.4 1178.5,722.4 1179.0,726.9 1179.5,729.3 1180.0,730.1 1180.5,728.4 1181.0,724.6 1181.5,728.4 1182.0,725.5 1182.5,720.0 1183.0,714.7 1183.5,720.3 1184.0,723.5 1184.5,722.6 1185.0,716.0 1185.5,723.5 1186.0,716.3 1186.5,721.7 1187.0,717.2 1187.5,721.6 1188.0,720.6 1188.5,719.1 1189.0,722.9 1189.5,719.4 1190.0,720.8 1190.5,721.1 1191.0,719.2 1191.5,724.5 1192.0,724.1 1192.5,720.9 1193.0,717.6 1193.5,721.8 1194.0,720.8 1194.5,721.4 1195.0,718.7 1195.5,717.3 1196.0,721.6 1196.5,714.7 1197.0,715.5 1197.5,710.3 1198.0,714.8 1198.5,714.7 1199.0,715.6 1199.5,719.0 1200.0,715.8 1200.5,719.8 1201.0,718.0 1201.5,718.5 1202.0,714.6 1202.5,722.1 1203.0,722.6 1203.5,716.9 1204.0,717.2 1204.5,711.9 1205.0,709.5 1205.5,716.3 1206.0,714.2 1206.5,711.6 1207.0,713.6 1207.5,709.3 1208.0,707.6 1208.5,714.2 1209.0,714.0 1209.5,723.0 1210.0,718.7 1210.5,722.9 1211.0,719.8 1211.5,716.5 1212.0,712.0 1212.5,715.1 1213.0,717.1 1213.5,715.0 1214.0,716.1 1214.5,717.0 1215.0,713.2 1215.5,720.3 1216.0,718.4 1216.5,722.1 1217.0,724.7 1217.5,716.3 1218.0,721.3 1218.5,722.3 1219.0,723.4 1219.5,719.0 1220.0,714.8 1220.5,719.1 1221.0,717.5 1221.5,709.3 1222.0,715.0 1222.5,709.0 1223.0,705.8 1223.5,710.7 1224.0,710.1 1224.5,704.9 1225.0,716.9 1225.5,705.0 1226.0,709.6 1226.5,710.0 1227.0,714.4 1227.5,705.6 1228.0,712.0 1228.5,702.5 1229.0,705.9 1229.5,704.3 1230.0,702.1 1230.5,706.4 1231.0,711.6 1231.5,712.4 1232.0,707.8 1232.5,702.0 1233.0,703.5 1233.5,708.7 1234.0,708.9 1234.5,711.8 1235.0,706.1 1235.5,703.6 1236.0,707.5 1236.5,705.0 1237.0,708.7 1237.5,700.5 1238.0,704.8 1238.5,706.4 1239.0,709.3 1239.5,711.2 1240.0,704.0 1240.5,706.9 1241.0,715.0 1241.5,714.9 1242.0,712.5 1242.5,727.2 1243.0,724.5 1243.5,725.7 1244.0,721.6 1244.5,723.0 1245.0,718.0 1245.5,716.0 1246.0,723.5 1246.5,709.6 1247.0,717.2 1247.5,711.4 1248.0,723.0 1248.5,721.9 1249.0,716.4 1249.5,715.1 1250.0,721.0 1250.5,728.9 1251.0,725.0 1251.5,719.4 1252.0,715.1 1252.5,736.5 1253.0,726.7 1253.5,725.1 1254.0,731.7 1254.5,734.5 1255.0,739.2 1255.5,731.9 1256.0,734.8 1256.5,740.8 1257.0,737.2 1257.5,742.1 1258.0,742.4 1258.5,745.9 1259.0,741.4 1259.5,738.9 1260.0,746.2 1260.5,747.2 1261.0,740.9 1261.5,742.6 1262.0,745.2 1262.5,742.8 1263.0,750.9 1263.5,745.8 1264.0,747.9 1264.5,744.0 1265.0,745.5 1265.5,746.9 1266.0,751.5 1266.5,748.8 1267.0,756.4 1267.5,750.6 1268.0,758.6 1268.5,756.2 1269.0,754.9 1269.5,761.4 1270.0,759.3 1270.5,755.1 1271.0,752.4 1271.5,756.3 1272.0,750.3 1272.5,754.1 1273.0,750.0 1273.5,754.5 1274.0,753.6 1274.5,758.1 1275.0,766.1 1275.5,767.1 1276.0,762.0 1276.5,763.0 1277.0,758.7 1277.5,764.7 1278.0,767.2 1278.5,754.6 1279.0,760.0 1279.5,763.2 1280.0,758.3 1280.5,761.0 1281.0,764.7 1281.5,761.4 1282.0,762.7 1282.5,767.7 1283.0,764.2 1283.5,767.0 1284.0,766.0 1284.5,763.8 1285.0,770.6 1285.5,760.2 1286.0,763.3 1286.5,757.8 1287.0,757.3 1287.5,754.6 1288.0,757.1 1288.5,759.2 1289.0,762.1 1289.5,751.8 1290.0,759.6 1290.5,759.6 1291.0,760.2 1291.5,763.2 1292.0,765.6 1292.5,766.1 1293.0,767.7 1293.5,769.9 1294.0,769.5 1294.5,772.9 1295.0,766.0 1295.5,773.0 1296.0,768.3 1296.5,766.2 1297.0,768.1 1297.5,770.4 1298.0,767.9 1298.5,766.6 1299.0,766.1 1299.5,769.0 1300.0,770.2 1300.5,772.5 1301.0,775.6 1301.5,776.3 1302.0,768.4 1302.5,767.4 1303.0,770.7 1303.5,764.6 1304.0,770.0 1304.5,769.8 1305.0,764.7 1305.5,771.5 1306.0,775.7 1306.5,775.0 1307.0,774.8 1307.5,776.8 1308.0,779.7 1308.5,776.5 1309.0,779.7 1309.5,777.6 1310.0,775.6 1310.5,774.5 1311.0,778.8 1311.5,774.3 1312.0,777.7 1312.5,771.6 1313.0,776.5 1313.5,777.2 1314.0,777.7 1314.5,779.3 1315.0,778.4 1315.5,779.4 1316.0,778.4 1316.5,777.9 1317.0,782.3 1317.5,781.8 1318.0,785.6 1318.5,799.4 1319.0,786.0 1319.5,785.1 1320.0,786.2 1320.5,782.2 1321.0,783.0 1321.5,781.4 1322.0,781.7 1322.5,779.7 1323.0,776.0 1323.5,778.2 1324.0,776.5 1324.5,783.7 1325.0,782.4 1325.5,775.7 1326.0,774.3 1326.5,775.9 1327.0,770.1 1327.5,776.8 1328.0,773.7 1328.5,766.8 1329.0,772.9 1329.5,773.7 1330.0,760.7 1330.5,774.8 1331.0,768.2 1331.5,772.2 1332.0,773.1 1332.5,771.9 1333.0,780.3 1333.5,785.9 1334.0,775.7 1334.5,778.9 1335.0,784.5 1335.5,781.1 1336.0,782.3 1336.5,779.9 1337.0,782.9 1337.5,778.2 1338.0,782.4 1338.5,780.7 1339.0,784.9 1339.5,775.2 1340.0,776.6 1340.5,778.7 1341.0,775.1 1341.5,775.7 1342.0,772.8 1342.5,778.7 1343.0,780.1 1343.5,783.1 1344.0,775.9 1344.5,774.2 1345.0,781.3 1345.5,780.4 1346.0,773.4 1346.5,775.3 1347.0,771.3 1347.5,776.5"/>
<polyline points="207.5,858.4 208.0,856.6 208.5,857.0 209.0,857.8 209.5,857.0 210.0,858.2 210.5,857.6 211.0,858.6 211.5,859.4 212.0,857.4 212.5,857.4 213.0,855.3 213.5,864.8 214.0,860.6 214.5,856.7 215.0,858.7 215.5,857.9 216.0,860.5 216.5,859.5 217.0,860.3 217.5,856.1 218.0,862.5 218.5,856.5 219.0,856.2 219.5,858.3 220.0,857.2 220.5,861.4 221.0,857.9 221.5,857.6 222.0,860.7 222.5,861.4 223.0,858.4 223.5,859.5 224.0,860.3 224.5,861.0 225.0,864.3 225.5,863.4 226.0,862.5 226.5,862.1 227.0,859.2 227.5,859.9 228.0,857.6 228.5,855.8 229.0,859.2 229.5,852.9 230.0,855.5 230.5,854.6 231.0,853.1 231.5,855.9 232.0,857.3 232.5,858.5 233.0,856.5 233.5,859.2 234.0,858.4 234.5,859.2 235.0,854.6 235.5,857.3 236.0,857.3 236.5,859.4 237.0,857.2 237.5,857.4 238.0,856.0 238.5,855.6 239.0,855.8 239.5,858.8 240.0,855.4 240.5,853.2 241.0,858.0 241.5,864.1 242.0,858.6 242.5,858.4 243.0,856.6 243.5,855.9 244.0,855.1 244.5,855.5 245.0,853.6 245.5,854.8 246.0,856.5 246.5,853.0 247.0,853.4 247.5,854.2 248.0,857.4 248.5,858.7 249.0,861.2 249.5,860.9 250.0,860.3 250.5,860.7 251.0,857.2 251.5,859.5 252.0,857.9 252.5,860.2 253.0,858.3 253.5,863.0 254.0,854.3 254.5,856.9 255.0,852.1 255.5,854.4 256.0,856.9 256.5,857.4 257.0,856.5 257.5,857.9 258.0,855.2 258.5,855.4 259.0,854.5 259.5,852.4 260.0,853.7 260.5,852.2 261.0,853.0 261.5,848.4 262.0,853.4 262.5,852.9 263.0,853.4 263.5,855.2 264.0,854.2 264.5,857.3 265.0,857.8 265.5,856.9 266.0,856.5 266.5,854.7 267.0,851.0 267.5,850.6 268.0,851.7 268.5,854.3 269.0,853.5 269.5,851.6 270.0,852.9 270.5,856.7 271.0,852.8 271.5,855.8 272.0,851.3 272.5,853.6 273.0,853.0 273.5,852.3 274.0,852.0 274.5,852.5 275.0,847.8 275.5,852.6 276.0,853.5 276.5,851.7 277.0,852.3 277.5,847.5 278.0,841.4 278.5,849.5 279.0,848.6 279.5,851.6 280.0,851.0 280.5,850.6 281.0,852.6 281.5,852.7 282.0,850.4 282.5,852.0 283.0,851.3 283.5,850.9 284.0,847.7 284.5,851.7 285.0,850.2 285.5,848.7 286.0,849.1 286.5,849.0 287.0,847.9 287.5,847.5 288.0,848.9 288.5,847.9 289.0,848.3 289.5,847.4 290.0,849.0 290.5,851.2 291.0,849.5 291.5,848.8 292.0,847.9 292.5,847.6 293.0,845.8 293.5,851.5 294.0,847.5 294.5,846.3 295.0,849.5 295.5,848.9 296.0,847.0 296.5,844.7 297.0,844.4 297.5,849.2 298.0,845.9 298.5,844.7 299.0,848.7 299.5,843.9 300.0,842.7 300.5,844.9 301.0,844.5 301.5,846.8 302.0,841.7 302.5,845.4 303.0,842.3 303.5,846.4 304.0,844.6 304.5,845.0 305.0,844.6 305.5,847.5 306.0,848.8 306.5,842.3 307.0,844.9 307.5,843.8 308.0,844.7 308.5,840.9 309.0,848.3 309.5,840.6 310.0,843.7 310.5,840.8 311.0,838.3 311.5,838.6 312.0,841.4 312.5,841.6 313.0,842.7 313.5,840.6 314.0,845.9 314.5,843.9 315.0,834.8 315.5,837.1 316.0,836.9 316.5,833.1 317.0,832.8 317.5,835.2 318.0,834.2 318.5,831.0 319.0,835.3 319.5,831.6 320.0,835.4 320.5,829.6 321.0,826.7 321.5,826.1 322.0,832.9 322.5,831.5 323.0,830.6 323.5,828.4 324.0,832.2 324.5,826.3 325.0,831.1 325.5,827.1 326.0,827.8 326.5,825.7 327.0,825.6 327.5,829.1 328.0,822.9 328.5,824.5 329.0,821.7 329.5,824.3 330.0,819.9 330.5,820.9 331.0,822.4 331.5,825.1 332.0,818.9 332.5,820.0 333.0,823.0 333.5,827.0 334.0,822.9 334.5,826.9 335.0,824.0 335.5,822.8 336.0,821.0 336.5,823.4 337.0,823.8 337.5,820.2 338.0,814.6 338.5,816.1 339.0,817.6 339.5,816.3 340.0,817.5 340.5,817.0 341.0,812.2 341.5,813.5 342.0,822.0 342.5,819.7 343.0,818.5 343.5,817.8 344.0,812.8 344.5,818.8 345.0,811.6 345.5,810.9 346.0,814.4 346.5,817.8 347.0,814.6 347.5,816.8 348.0,813.1 348.5,818.6 349.0,813.4 349.5,820.8 350.0,814.0 350.5,816.6 351.0,810.7 351.5,818.0 352.0,812.6 352.5,817.5 353.0,811.2 353.5,813.7 354.0,810.2 354.5,809.4 355.0,811.3 355.5,806.4 356.0,809.8 356.5,805.7 357.0,812.5 357.5,811.3 358.0,809.8 358.5,807.0 359.0,811.8 359.5,807.3 360.0,811.0 360.5,807.7 361.0,808.1 361.5,807.7 362.0,808.5 362.5,805.8 363.0,806.8 363.5,805.1 364.0,807.4 364.5,807.0 365.0,807.6 365.5,805.2 366.0,807.9 366.5,807.3 367.0,808.3 367.5,806.7 368.0,804.1 368.5,807.3 369.0,804.3 369.5,806.6 370.0,802.1 370.5,808.1 371.0,808.8 371.5,805.5 372.0,808.3 372.5,805.8 373.0,808.3 373.5,806.7 374.0,802.1 374.5,803.7 375.0,799.6 375.5,801.6 376.0,802.2 376.5,801.5 377.0,798.3 377.5,797.0 378.0,797.1 378.5,794.9 379.0,796.4 379.5,797.4 380.0,794.5 380.5,794.8 381.0,790.1 381.5,789.7 382.0,790.9 382.5,794.3 383.0,792.2 383.5,794.2 384.0,791.0 384.5,794.1 385.0,785.7 385.5,792.8 386.0,786.8 386.5,793.5 387.0,791.2 387.5,792.0 388.0,789.9 388.5,787.8 389.0,786.3 389.5,789.9 390.0,793.3 390.5,791.8 391.0,789.4 391.5,789.3 392.0,788.7 392.5,789.2 393.0,788.5 393.5,786.3 394.0,785.8 394.5,780.7 395.0,786.4 395.5,782.6 396.0,785.1 396.5,782.2 397.0,781.0 397.5,786.5 398.0,781.1 398.5,778.0 399.0,777.3 399.5,780.9 400.0,777.0 400.5,772.2 401.0,773.4 401.5,769.4 402.0,774.0 402.5,768.1 403.0,772.3 403.5,770.1 404.0,769.7 404.5,767.1 405.0,767.7 405.5,765.6 406.0,764.4 406.5,766.3 407.0,769.8 407.5,761.5 408.0,763.0 408.5,759.0 409.0,755.9 409.5,759.7 410.0,757.3 410.5,755.5 411.0,755.5 411.5,755.3 412.0,752.4 412.5,752.9 413.0,756.6 413.5,745.8 414.0,756.8 414.5,753.0 415.0,750.4 415.5,749.6 416.0,745.6 416.5,747.5 417.0,745.7 417.5,740.4 418.0,742.0 418.5,733.4 419.0,725.6 419.5,728.5 420.0,725.7 420.5,722.1 421.0,710.2 421.5,720.9 422.0,718.0 422.5,724.0 423.0,719.7 423.5,725.4 424.0,716.8 424.5,716.6 425.0,711.1 425.5,716.7 426.0,711.0 426.5,715.3 427.0,724.0 427.5,715.7 428.0,699.2 428.5,710.0 429.0,712.8 429.5,712.3 430.0,711.1 430.5,704.8 431.0,702.4 431.5,705.5 432.0,697.0 432.5,698.9 433.0,691.0 433.5,691.9 434.0,686.8 434.5,688.2 435.0,679.8 435.5,681.7 436.0,676.1 436.5,673.0 437.0,672.9 437.5,669.4 438.0,663.1 438.5,664.3 439.0,662.1 439.5,657.3 440.0,657.5 440.5,651.7 441.0,650.3 441.5,641.9 442.0,637.5 442.5,639.5 443.0,633.1 443.5,631.9 444.0,627.7 444.5,627.9 445.0,621.9 445.5,617.5 446.0,610.2 446.5,604.5 447.0,603.2 447.5,605.0 448.0,602.0 448.5,599.2 449.0,593.9 449.5,589.4 450.0,592.8 450.5,586.3 451.0,583.0 451.5,573.9 452.0,569.5 452.5,568.2 453.0,563.3 453.5,553.3 454.0,552.4 454.5,543.5 455.0,546.0 455.5,539.5 456.0,538.8 456.5,530.7 457.0,517.8 457.5,513.4 458.0,504.2 458.5,498.3 459.0,492.0 459.5,480.5 460.0,470.6 460.5,455.7 461.0,450.0 461.5,436.0 462.0,424.9 462.5,412.9 463.0,396.3 463.5,383.9 464.0,365.5 464.5,355.9 465.0,339.9 465.5,326.3 466.0,316.0 466.5,298.2 467.0,294.9 467.5,287.2 468.0,280.0 468.5,269.9 469.0,255.0 469.5,245.1 470.0,237.9 470.5,241.1 471.0,237.5 471.5,237.1 472.0,236.6 472.5,233.4 473.0,234.1 473.5,233.6 474.0,236.1 474.5,241.7 475.0,247.2 475.5,244.8 476.0,247.6 476.5,250.0 477.0,247.8 477.5,252.4 478.0,247.9 478.5,253.9 479.0,252.8 479.5,262.1 480.0,266.3 480.5,282.9 481.0,288.0 481.5,291.9 482.0,299.0 482.5,307.0 483.0,315.3 483.5,324.7 484.0,335.0 484.5,348.8 485.0,366.9 485.5,378.5 486.0,392.1 486.5,398.9 487.0,412.6 487.5,421.8 488.0,430.8 488.5,442.4 489.0,450.9 489.5,468.7 490.0,477.7 490.5,481.1 491.0,489.2 491.5,496.9 492.0,500.3 492.5,505.3 493.0,507.7 493.5,516.8 494.0,519.4 494.5,527.3 495.0,536.7 495.5,529.5 496.0,539.1 496.5,545.7 497.0,548.5 497.5,558.6 498.0,559.3 498.5,569.7 499.0,571.0 499.5,573.5 500.0,575.5 500.5,581.2 501.0,583.4 501.5,589.8 502.0,590.3 502.5,595.8 503.0,597.6 503.5,601.0 504.0,599.2 504.5,607.7 505.0,612.9 505.5,612.4 506.0,615.3 506.5,622.0 507.0,626.9 507.5,624.0 508.0,632.9 508.5,637.7 509.0,636.4 509.5,639.2 510.0,640.3 510.5,636.3 511.0,638.7 511.5,636.2 512.0,628.8 512.5,631.6 513.0,630.2 513.5,622.1 514.0,625.7 514.5,620.7 515.0,616.4 515.5,617.3 516.0,618.9 516.5,625.3 517.0,625.2 517.5,628.7 518.0,629.1 518.5,635.5 519.0,633.6 519.5,636.4 520.0,641.2 520.5,642.2 521.0,639.4 521.5,641.3 522.0,643.4 522.5,647.7 523.0,645.1 523.5,644.9 524.0,639.9 524.5,635.5 525.0,637.7 525.5,641.2 526.0,639.7 526.5,639.2 527.0,638.5 527.5,633.3 528.0,635.6 528.5,638.2 529.0,636.6 529.5,640.6 530.0,638.3 530.5,641.3 531.0,654.3 531.5,652.9 532.0,653.5 532.5,655.3 533.0,659.4 533.5,656.6 534.0,639.7 534.5,647.1 535.0,648.2 535.5,638.6 536.0,637.8 536.5,641.2 537.0,645.8 537.5,641.3 538.0,643.5 538.5,636.7 539.0,638.2 539.5,638.9 540.0,635.2 540.5,633.1 541.0,632.7 541.5,620.1 542.0,630.6 542.5,622.1 543.0,622.0 543.5,631.0 544.0,620.9 544.5,610.9 545.0,615.9 545.5,614.5 546.0,611.2 546.5,611.2 547.0,609.5 547.5,601.1 548.0,603.5 548.5,600.6 549.0,594.9 549.5,595.5 550.0,590.7 550.5,591.2 551.0,587.9 551.5,593.6 552.0,597.4 552.5,589.4 553.0,591.4 553.5,591.0 554.0,590.9 554.5,587.2 555.0,578.7 555.5,584.0 556.0,580.2 556.5,575.4 557.0,576.3 557.5,573.7 558.0,573.9 558.5,569.7 559.0,566.3 559.5,563.1 560.0,558.4 560.5,552.2 561.0,550.2 561.5,541.9 562.0,533.4 562.5,535.5 563.0,525.2 563.5,517.8 564.0,510.7 564.5,510.1 565.0,508.3 565.5,501.7 566.0,492.6 566.5,484.7 567.0,478.1 567.5,472.3 568.0,462.2 568.5,452.1 569.0,438.6 569.5,429.6 570.0,428.7 570.5,407.4 571.0,422.1 571.5,420.9 572.0,412.9 572.5,409.4 573.0,407.4 573.5,400.8 574.0,394.2 574.5,370.8 575.0,351.3 575.5,327.4 576.0,302.3 576.5,295.0 577.0,286.6 577.5,270.5 578.0,270.0 578.5,260.9 579.0,253.2 579.5,246.5 580.0,242.1 580.5,236.8 581.0,236.6 581.5,237.7 582.0,236.4 582.5,229.6 583.0,228.5 583.5,224.8 584.0,217.0 584.5,218.9 585.0,214.8 585.5,214.0 586.0,215.2 586.5,217.5 587.0,218.8 587.5,224.0 588.0,229.2 588.5,237.0 589.0,246.7 589.5,256.0 590.0,266.4 590.5,288.0 591.0,290.7 591.5,298.2 592.0,314.8 592.5,313.6 593.0,324.0 593.5,331.5 594.0,334.8 594.5,336.2 595.0,345.4 595.5,345.6 596.0,353.9 596.5,367.3 597.0,376.9 597.5,393.9 598.0,401.9 598.5,410.3 599.0,428.3 599.5,438.7 600.0,450.3 600.5,455.1 601.0,464.5 601.5,474.9 602.0,485.0 602.5,492.5 603.0,502.7 603.5,505.9 604.0,520.4 604.5,534.2 605.0,550.9 605.5,564.6 606.0,576.9 606.5,590.4 607.0,600.8 607.5,604.6 608.0,615.5 608.5,623.5 609.0,628.4 609.5,626.1 610.0,636.6 610.5,641.3 611.0,657.8 611.5,664.9 612.0,674.0 612.5,677.4 613.0,679.9 613.5,687.8 614.0,694.5 614.5,695.5 615.0,701.2 615.5,712.9 616.0,708.2 616.5,717.0 617.0,709.4 617.5,722.9 618.0,727.8 618.5,729.9 619.0,734.7 619.5,738.6 620.0,732.2 620.5,738.2 621.0,740.5 621.5,742.2 622.0,747.5 622.5,746.7 623.0,751.9 623.5,754.7 624.0,755.1 624.5,758.8 625.0,758.0 625.5,762.8 626.0,764.4 626.5,765.3 627.0,766.2 627.5,777.6 628.0,770.5 628.5,777.9 629.0,779.2 629.5,777.4 630.0,775.4 630.5,779.9 631.0,778.9 631.5,779.7 632.0,778.0 632.5,783.1 633.0,791.9 633.5,784.0 634.0,785.6 634.5,788.8 635.0,788.9 635.5,793.1 636.0,799.6 636.5,796.7 637.0,800.9 637.5,796.6 638.0,801.3 638.5,800.9 639.0,799.7 639.5,796.7 640.0,795.5 640.5,795.0 641.0,794.0 641.5,791.4 642.0,786.4 642.5,794.7 643.0,791.0 643.5,793.0 644.0,796.5 644.5,796.5 645.0,793.9 645.5,791.2 646.0,795.7 646.5,794.1 647.0,791.2 647.5,789.8 648.0,793.6 648.5,795.5 649.0,800.2 649.5,799.2 650.0,798.8 650.5,801.6 651.0,797.6 651.5,801.5 652.0,800.3 652.5,798.1 653.0,799.9 653.5,801.5 654.0,798.2 654.5,800.2 655.0,794.9 655.5,798.0 656.0,793.4 656.5,798.9 657.0,799.0 657.5,799.8 658.0,802.3 658.5,798.8 659.0,801.7 659.5,798.7 660.0,797.1 660.5,793.8 661.0,795.3 661.5,795.5 662.0,799.2 662.5,798.1 663.0,799.4 663.5,802.2 664.0,801.7 664.5,805.7 665.0,800.8 665.5,798.5 666.0,803.2 666.5,799.2 667.0,800.5 667.5,803.1 668.0,801.5 668.5,806.9 669.0,800.1 669.5,800.9 670.0,803.1 670.5,800.6 671.0,800.9 671.5,801.6 672.0,805.2 672.5,805.0 673.0,802.2 673.5,801.8 674.0,799.9 674.5,804.2 675.0,802.1 675.5,803.4 676.0,798.4 676.5,803.5 677.0,802.4 677.5,804.0 678.0,804.7 678.5,803.9 679.0,801.2 679.5,803.1 680.0,798.4 680.5,803.8 681.0,801.3 681.5,798.5 682.0,804.6 682.5,798.0 683.0,807.8 683.5,807.9 684.0,807.8 684.5,807.0 685.0,804.6 685.5,808.0 686.0,806.6 686.5,803.0 687.0,803.9 687.5,799.3 688.0,802.5 688.5,799.7 689.0,799.6 689.5,797.5 690.0,801.7 690.5,800.6 691.0,799.6 691.5,802.3 692.0,801.5 692.5,804.6 693.0,799.0 693.5,799.8 694.0,806.4 694.5,800.3 695.0,801.6 695.5,798.7 696.0,799.1 696.5,803.7 697.0,793.1 697.5,798.7 698.0,798.1 698.5,799.0 699.0,797.2 699.5,799.3 700.0,801.7 700.5,804.5 701.0,801.1 701.5,803.8 702.0,800.4 702.5,816.6 703.0,801.5 703.5,796.7 704.0,801.7 704.5,800.0 705.0,798.4 705.5,797.5 706.0,795.6 706.5,796.7 707.0,793.6 707.5,801.7 708.0,804.2 708.5,801.6 709.0,802.2 709.5,795.5 710.0,799.6 710.5,797.1 711.0,797.2 711.5,801.6 712.0,804.2 712.5,801.7 713.0,808.1 713.5,805.0 714.0,798.2 714.5,802.0 715.0,805.2 715.5,802.0 716.0,803.6 716.5,797.6 717.0,804.7 717.5,800.0 718.0,804.4 718.5,809.2 719.0,807.8 719.5,804.9 720.0,807.2 720.5,803.6 721.0,803.2 721.5,807.3 722.0,801.6 722.5,802.0 723.0,808.6 723.5,801.6 724.0,804.9 724.5,805.5 725.0,801.7 725.5,798.0 726.0,800.7 726.5,797.4 727.0,803.8 727.5,801.3 728.0,793.9 728.5,802.8 729.0,793.0 729.5,797.9 730.0,797.3 730.5,796.6 731.0,800.9 731.5,797.1 732.0,802.3 732.5,801.9 733.0,800.9 733.5,804.7 734.0,802.6 734.5,808.0 735.0,801.0 735.5,800.0 736.0,801.8 736.5,798.5 737.0,793.3 737.5,793.3 738.0,797.5 738.5,797.9 739.0,800.9 739.5,799.0 740.0,800.6 740.5,796.3 741.0,799.4 741.5,804.2 742.0,802.0 742.5,805.2 743.0,804.6 743.5,803.0 744.0,805.4 744.5,803.5 745.0,800.2 745.5,803.3 746.0,802.8 746.5,801.1 747.0,801.7 747.5,800.0 748.0,801.4 748.5,799.5 749.0,795.9 749.5,797.9 750.0,801.4 750.5,799.5 751.0,801.3 751.5,798.7 752.0,798.8 752.5,800.0 753.0,801.4 753.5,803.3 754.0,802.2 754.5,801.2 755.0,797.4 755.5,798.0 756.0,795.5 756.5,799.0 757.0,798.5 757.5,795.8 758.0,797.7 758.5,792.3 759.0,799.0 759.5,795.6 760.0,796.8 760.5,799.3 761.0,799.7 761.5,796.9 762.0,802.1 762.5,802.8 763.0,801.1 763.5,800.2 764.0,796.9 764.5,799.6 765.0,794.5 765.5,792.8 766.0,797.5 766.5,798.1 767.0,796.0 767.5,802.5 768.0,795.8 768.5,795.4 769.0,800.2 769.5,805.9 770.0,804.7 770.5,804.2 771.0,803.7 771.5,804.2 772.0,802.8 772.5,803.3 773.0,799.5 773.5,783.6 774.0,799.4 774.5,795.2 775.0,791.7 775.5,796.4 776.0,797.6 776.5,793.6 777.0,797.5 777.5,801.8 778.0,795.3 778.5,798.0 779.0,796.0 779.5,793.7 780.0,795.6 780.5,794.7 781.0,800.5 781.5,796.1 782.0,795.2 782.5,797.5 783.0,797.7 783.5,795.1 784.0,796.4 784.5,795.5 785.0,795.6 785.5,788.7 786.0,793.3 786.5,787.8 787.0,791.1 787.5,788.5 788.0,789.2 788.5,792.1 789.0,794.6 789.5,796.9 790.0,795.9 790.5,794.7 791.0,790.1 791.5,792.0 792.0,792.9 792.5,790.9 793.0,793.5 793.5,791.6 794.0,796.5 794.5,792.1 795.0,789.7 795.5,791.4 796.0,790.8 796.5,793.8 797.0,795.0 797.5,793.9 798.0,793.9 798.5,790.3 799.0,790.0 799.5,791.6 800.0,800.0 800.5,795.1 801.0,797.8 801.5,800.6 802.0,799.3 802.5,807.1 803.0,797.6 803.5,800.3 804.0,797.7 804.5,798.9 805.0,795.2 805.5,792.9 806.0,793.0 806.5,790.6 807.0,789.7 807.5,793.8 808.0,790.3 808.5,794.4 809.0,797.4 809.5,790.8 810.0,794.0 810.5,792.0 811.0,788.1 811.5,792.5 812.0,796.4 812.5,790.1 813.0,792.3 813.5,791.8 814.0,788.1 814.5,791.4 815.0,789.5 815.5,790.7 816.0,789.3 816.5,786.0 817.0,789.9 817.5,791.2 818.0,789.1 818.5,790.8 819.0,790.4 819.5,784.6 820.0,789.9 820.5,784.6 821.0,785.8 821.5,789.0 822.0,787.7 822.5,788.8 823.0,793.8 823.5,789.0 824.0,794.5 824.5,796.2 825.0,801.1 825.5,789.5 826.0,788.7 826.5,792.6 827.0,797.7 827.5,792.5 828.0,792.0 828.5,793.4 829.0,796.1 829.5,797.9 830.0,795.8 830.5,796.0 831.0,797.7 831.5,796.1 832.0,794.2 832.5,789.6 833.0,792.6 833.5,789.6 834.0,789.6 834.5,789.2 835.0,788.0 835.5,792.0 836.0,793.8 836.5,793.0 837.0,790.5 837.5,799.7 838.0,794.2 838.5,793.0 839.0,795.8 839.5,791.8 840.0,795.5 840.5,799.9 841.0,798.7 841.5,795.5 842.0,795.2 842.5,799.1 843.0,796.0 843.5,791.7 844.0,794.5 844.5,793.2 845.0,793.4 845.5,792.1 846.0,796.3 846.5,799.1 847.0,794.9 847.5,788.6 848.0,791.8 848.5,786.2 849.0,789.6 849.5,791.3 850.0,792.4 850.5,791.4 851.0,790.2 851.5,789.9 852.0,789.8 852.5,794.1 853.0,788.2 853.5,786.5 854.0,794.0 854.5,794.8 855.0,785.4 855.5,791.6 856.0,788.0 856.5,789.4 857.0,784.4 857.5,791.8 858.0,790.7 858.5,793.2 859.0,789.5 859.5,793.6 860.0,789.4 860.5,795.2 861.0,800.3 861.5,795.1 862.0,791.4 862.5,791.2 863.0,790.7 863.5,795.1 864.0,782.5 864.5,787.4 865.0,789.0 865.5,791.0 866.0,790.7 866.5,791.2 867.0,783.2 867.5,789.8 868.0,787.5 868.5,792.3 869.0,789.4 869.5,791.3 870.0,785.0 870.5,790.3 871.0,791.4 871.5,787.9 872.0,792.3 872.5,789.0 873.0,790.8 873.5,791.8 874.0,788.6 874.5,793.6 875.0,794.0 875.5,794.5 876.0,791.7 876.5,793.3 877.0,796.1 877.5,795.3 878.0,790.6 878.5,805.0 879.0,790.2 879.5,789.0 880.0,794.1 880.5,792.8 881.0,798.3 881.5,793.0 882.0,794.3 882.5,795.6 883.0,793.7 883.5,790.9 884.0,790.5 884.5,789.0 885.0,788.0 885.5,787.3 886.0,783.4 886.5,789.4 887.0,786.1 887.5,787.3 888.0,786.3 888.5,788.0 889.0,787.3 889.5,792.0 890.0,790.1 890.5,789.9 891.0,788.3 891.5,788.6 892.0,789.4 892.5,787.9 893.0,785.4 893.5,787.5 894.0,784.5 894.5,791.7 895.0,787.2 895.5,785.0 896.0,787.6 896.5,784.9 897.0,786.6 897.5,791.3 898.0,789.3 898.5,782.8 899.0,785.4 899.5,786.7 900.0,796.4 900.5,786.9 901.0,786.4 901.5,783.4 902.0,786.6 902.5,784.8 903.0,778.5 903.5,779.9 904.0,778.3 904.5,780.6 905.0,782.5 905.5,782.3 906.0,784.9 906.5,779.5 907.0,789.5 907.5,786.5 908.0,787.3 908.5,781.4 909.0,787.8 909.5,789.7 910.0,784.1 910.5,786.5 911.0,786.7 911.5,781.4 912.0,789.7 912.5,788.6 913.0,783.3 913.5,785.7 914.0,788.9 914.5,786.7 915.0,781.2 915.5,782.6 916.0,781.6 916.5,783.1 917.0,780.5 917.5,782.2 918.0,782.0 918.5,779.7 919.0,785.7 919.5,786.7 920.0,785.5 920.5,789.5 921.0,793.2 921.5,780.6 922.0,786.0 922.5,786.1 923.0,782.8 923.5,780.2 924.0,786.4 924.5,779.4 925.0,780.3 925.5,779.4 926.0,784.8 926.5,777.4 927.0,781.4 927.5,783.3 928.0,785.6 928.5,785.6 929.0,786.9 929.5,783.7 930.0,781.7 930.5,783.2 931.0,781.1 931.5,781.9 932.0,782.0 932.5,783.7 933.0,784.6 933.5,779.2 934.0,783.3 934.5,780.8 935.0,780.5 935.5,779.7 936.0,781.9 936.5,780.1 937.0,776.5 937.5,784.3 938.0,778.0 938.5,785.2 939.0,781.7 939.5,781.8 940.0,777.2 940.5,781.3 941.0,779.8 941.5,777.9 942.0,780.9 942.5,781.0 943.0,781.6 943.5,775.1 944.0,775.9 944.5,781.1 945.0,779.0 945.5,780.0 946.0,777.1 946.5,779.6 947.0,781.0 947.5,775.9 948.0,777.0 948.5,779.0 949.0,785.5 949.5,777.4 950.0,780.5 950.5,777.3 951.0,776.8 951.5,781.5 952.0,777.2 952.5,779.5 953.0,777.7 953.5,780.2 954.0,775.6 954.5,775.0 955.0,774.6 955.5,777.7 956.0,779.9 956.5,778.0 957.0,775.9 957.5,775.2 958.0,779.2 958.5,778.8 959.0,780.7 959.5,782.0 960.0,780.1 960.5,778.5 961.0,777.2 961.5,774.8 962.0,774.7 962.5,771.1 963.0,771.4 963.5,776.7 964.0,772.5 964.5,768.7 965.0,776.9 965.5,777.5 966.0,775.7 966.5,771.7 967.0,779.8 967.5,777.1 968.0,776.6 968.5,771.6 969.0,774.7 969.5,769.2 970.0,768.5 970.5,765.8 971.0,766.7 971.5,767.5 972.0,768.9 972.5,771.3 973.0,770.0 973.5,763.7 974.0,770.6 974.5,763.5 975.0,768.0 975.5,765.2 976.0,764.6 976.5,761.8 977.0,758.9 977.5,765.0 978.0,754.0 978.5,758.4 979.0,765.1 979.5,762.7 980.0,763.9 980.5,762.5 981.0,762.5 981.5,767.4 982.0,765.6 982.5,767.1 983.0,768.4 983.5,762.1 984.0,764.2 984.5,765.3 985.0,767.4 985.5,764.1 986.0,762.1 986.5,762.9 987.0,761.7 987.5,760.3 988.0,763.8 988.5,757.0 989.0,759.0 989.5,752.2 990.0,758.0 990.5,758.6 991.0,760.2 991.5,756.2 992.0,756.9 992.5,755.0 993.0,756.6 993.5,764.0 994.0,752.4 994.5,752.0 995.0,756.7 995.5,754.0 996.0,760.1 996.5,752.8 997.0,761.4 997.5,755.5 998.0,751.9 998.5,750.0 999.0,753.4 999.5,754.1 1000.0,757.1 1000.5,752.9 1001.0,765.2 1001.5,759.5 1002.0,756.9 1002.5,756.0 1003.0,764.9 1003.5,755.3 1004.0,759.4 1004.5,761.4 1005.0,754.9 1005.5,759.2 1006.0,756.4 1006.5,761.7 1007.0,761.9 1007.5,759.3 1008.0,758.2 1008.5,754.2 1009.0,764.5 1009.5,762.1 1010.0,760.4 1010.5,763.3 1011.0,762.8 1011.5,758.0 1012.0,764.6 1012.5,759.9 1013.0,761.2 1013.5,764.4 1014.0,756.9 1014.5,760.2 1015.0,757.9 1015.5,754.1 1016.0,752.7 1016.5,754.6 1017.0,753.7 1017.5,754.7 1018.0,750.0 1018.5,754.6 1019.0,751.0 1019.5,752.6 1020.0,758.0 1020.5,753.8 1021.0,754.6 1021.5,753.9 1022.0,756.0 1022.5,757.8 1023.0,753.7 1023.5,755.3 1024.0,748.6 1024.5,752.7 1025.0,750.5 1025.5,750.8 1026.0,748.0 1026.5,749.1 1027.0,752.1 1027.5,748.1 1028.0,754.0 1028.5,754.5 1029.0,753.6 1029.5,748.9 1030.0,746.8 1030.5,752.2 1031.0,750.7 1031.5,746.8 1032.0,747.2 1032.5,744.0 1033.0,745.1 1033.5,743.3 1034.0,740.1 1034.5,746.5 1035.0,740.8 1035.5,750.4 1036.0,750.5 1036.5,740.4 1037.0,741.7 1037.5,741.5 1038.0,740.9 1038.5,741.7 1039.0,738.3 1039.5,734.6 1040.0,739.1 1040.5,744.0 1041.0,747.0 1041.5,738.7 1042.0,745.8 1042.5,749.8 1043.0,743.3 1043.5,753.5 1044.0,746.8 1044.5,749.0 1045.0,747.6 1045.5,753.8 1046.0,750.3 1046.5,747.3 1047.0,745.1 1047.5,740.2 1048.0,743.4 1048.5,741.1 1049.0,740.8 1049.5,733.4 1050.0,741.2 1050.5,738.6 1051.0,739.9 1051.5,733.4 1052.0,735.8 1052.5,733.4 1053.0,741.0 1053.5,738.2 1054.0,744.0 1054.5,740.5 1055.0,739.8 1055.5,738.4 1056.0,731.6 1056.5,738.2 1057.0,730.9 1057.5,736.5 1058.0,736.9 1058.5,730.7 1059.0,731.6 1059.5,732.3 1060.0,733.3 1060.5,733.1 1061.0,732.1 1061.5,729.1 1062.0,732.5 1062.5,739.4 1063.0,729.6 1063.5,736.4 1064.0,727.1 1064.5,727.9 1065.0,725.6 1065.5,728.5 1066.0,728.1 1066.5,722.1 1067.0,715.9 1067.5,716.3 1068.0,713.4 1068.5,717.3 1069.0,715.3 1069.5,717.0 1070.0,710.7 1070.5,712.5 1071.0,712.6 1071.5,713.7 1072.0,715.1 1072.5,720.1 1073.0,716.1 1073.5,718.7 1074.0,714.2 1074.5,706.2 1075.0,706.0 1075.5,708.4 1076.0,711.0 1076.5,705.1 1077.0,698.2 1077.5,702.2 1078.0,700.2 1078.5,703.0 1079.0,704.2 1079.5,702.7 1080.0,699.4 1080.5,697.3 1081.0,698.4 1081.5,697.7 1082.0,697.3 1082.5,692.3 1083.0,689.1 1083.5,690.1 1084.0,687.9 1084.5,682.4 1085.0,674.0 1085.5,673.0 1086.0,678.9 1086.5,664.4 1087.0,664.8 1087.5,667.9 1088.0,659.7 1088.5,661.2 1089.0,666.2 1089.5,664.2 1090.0,653.1 1090.5,661.4 1091.0,657.5 1091.5,653.0 1092.0,661.3 1092.5,653.9 1093.0,653.4 1093.5,647.0 1094.0,649.0 1094.5,644.9 1095.0,640.4 1095.5,643.2 1096.0,634.8 1096.5,630.7 1097.0,627.1 1097.5,634.2 1098.0,636.5 1098.5,625.5 1099.0,638.1 1099.5,643.0 1100.0,639.5 1100.5,634.7 1101.0,645.8 1101.5,641.0 1102.0,642.2 1102.5,640.6 1103.0,634.1 1103.5,627.2 1104.0,632.0 1104.5,632.3 1105.0,627.9 1105.5,624.0 1106.0,632.0 1106.5,626.0 1107.0,634.2 1107.5,627.0 1108.0,630.6 1108.5,627.8 1109.0,630.1 1109.5,629.6 1110.0,618.1 1110.5,621.7 1111.0,620.4 1111.5,618.8 1112.0,619.4 1112.5,622.8 1113.0,610.7 1113.5,618.3 1114.0,613.6 1114.5,611.3 1115.0,607.1 1115.5,608.6 1116.0,606.2 1116.5,610.9 1117.0,614.1 1117.5,610.1 1118.0,611.2 1118.5,606.3 1119.0,613.5 1119.5,609.2 1120.0,610.2 1120.5,615.8 1121.0,613.0 1121.5,618.3 1122.0,616.8 1122.5,616.8 1123.0,615.1 1123.5,618.8 1124.0,619.8 1124.5,619.8 1125.0,624.2 1125.5,618.2 1126.0,616.0 1126.5,617.2 1127.0,619.6 1127.5,620.8 1128.0,624.6 1128.5,632.0 1129.0,622.2 1129.5,623.0 1130.0,624.1 1130.5,622.4 1131.0,623.7 1131.5,630.3 1132.0,634.0 1132.5,628.4 1133.0,633.1 1133.5,639.0 1134.0,637.2 1134.5,637.6 1135.0,640.0 1135.5,638.2 1136.0,635.8 1136.5,640.3 1137.0,634.7 1137.5,637.5 1138.0,641.8 1138.5,637.8 1139.0,647.2 1139.5,642.8 1140.0,643.6 1140.5,651.9 1141.0,653.7 1141.5,657.0 1142.0,660.7 1142.5,654.2 1143.0,659.4 1143.5,658.6 1144.0,661.9 1144.5,669.8 1145.0,669.0 1145.5,669.8 1146.0,671.1 1146.5,668.4 1147.0,675.2 1147.5,666.8 1148.0,673.5 1148.5,669.1 1149.0,668.4 1149.5,680.3 1150.0,672.1 1150.5,685.6 1151.0,672.0 1151.5,672.5 1152.0,679.7 1152.5,676.6 1153.0,675.5 1153.5,677.8 1154.0,679.9 1154.5,682.9 1155.0,683.9 1155.5,686.9 1156.0,687.2 1156.5,687.7 1157.0,692.0 1157.5,676.2 1158.0,691.5 1158.5,688.8 1159.0,689.5 1159.5,692.0 1160.0,685.9 1160.5,690.2 1161.0,682.9 1161.5,677.2 1162.0,682.7 1162.5,692.3 1163.0,687.8 1163.5,686.3 1164.0,681.1 1164.5,686.3 1165.0,688.8 1165.5,681.6 1166.0,686.0 1166.5,687.0 1167.0,689.1 1167.5,691.1 1168.0,695.3 1168.5,688.5 1169.0,688.9 1169.5,690.0 1170.0,693.3 1170.5,690.6 1171.0,693.5 1171.5,695.3 1172.0,693.1 1172.5,693.4 1173.0,694.6 1173.5,694.4 1174.0,693.9 1174.5,693.2 1175.0,694.1 1175.5,699.6 1176.0,693.9 1176.5,697.3 1177.0,697.7 1177.5,702.0 1178.0,696.4 1178.5,697.3 1179.0,692.2 1179.5,699.8 1180.0,698.2 1180.5,696.3 1181.0,694.3 1181.5,701.3 1182.0,694.1 1182.5,678.1 1183.0,688.6 1183.5,689.4 1184.0,693.1 1184.5,689.0 1185.0,694.1 1185.5,688.3 1186.0,693.1 1186.5,691.0 1187.0,695.3 1187.5,686.9 1188.0,690.1 1188.5,699.9 1189.0,688.6 1189.5,690.3 1190.0,686.8 1190.5,695.7 1191.0,696.2 1191.5,693.4 1192.0,686.1 1192.5,699.6 1193.0,704.7 1193.5,695.9 1194.0,701.6 1194.5,703.7 1195.0,701.1 1195.5,697.4 1196.0,702.1 1196.5,701.6 1197.0,706.9 1197.5,698.7 1198.0,707.2 1198.5,705.1 1199.0,698.4 1199.5,705.1 1200.0,704.8 1200.5,706.5 1201.0,703.6 1201.5,706.6 1202.0,705.6 1202.5,687.8 1203.0,694.0 1203.5,690.1 1204.0,683.1 1204.5,696.1 1205.0,688.7 1205.5,689.8 1206.0,701.2 1206.5,692.7 1207.0,692.2 1207.5,698.3 1208.0,701.3 1208.5,686.1 1209.0,688.3 1209.5,689.9 1210.0,695.5 1210.5,693.9 1211.0,697.9 1211.5,688.1 1212.0,693.2 1212.5,688.8 1213.0,684.7 1213.5,694.6 1214.0,685.9 1214.5,689.4 1215.0,684.0 1215.5,690.9 1216.0,692.2 1216.5,689.3 1217.0,696.8 1217.5,686.3 1218.0,693.7 1218.5,684.5 1219.0,691.9 1219.5,690.4 1220.0,683.3 1220.5,691.5 1221.0,684.3 1221.5,678.5 1222.0,682.3 1222.5,687.3 1223.0,684.2 1223.5,688.1 1224.0,690.6 1224.5,688.5 1225.0,687.2 1225.5,685.2 1226.0,685.1 1226.5,687.6 1227.0,677.8 1227.5,677.9 1228.0,680.6 1228.5,672.8 1229.0,680.8 1229.5,677.5 1230.0,680.3 1230.5,676.8 1231.0,679.1 1231.5,685.1 1232.0,676.2 1232.5,685.3 1233.0,687.1 1233.5,684.9 1234.0,681.7 1234.5,684.6 1235.0,686.6 1235.5,694.9 1236.0,677.1 1236.5,689.9 1237.0,687.5 1237.5,678.5 1238.0,683.8 1238.5,679.4 1239.0,676.8 1239.5,691.4 1240.0,683.5 1240.5,683.4 1241.0,685.8 1241.5,704.1 1242.0,698.2 1242.5,696.9 1243.0,691.4 1243.5,695.9 1244.0,694.0 1244.5,695.6 1245.0,685.3 1245.5,692.2 1246.0,691.5 1246.5,682.5 1247.0,681.5 1247.5,684.9 1248.0,681.2 1248.5,687.5 1249.0,690.1 1249.5,699.4 1250.0,692.7 1250.5,697.8 1251.0,706.3 1251.5,696.0 1252.0,708.0 1252.5,703.7 1253.0,707.5 1253.5,705.6 1254.0,708.9 1254.5,694.3 1255.0,705.7 1255.5,701.0 1256.0,709.3 1256.5,708.5 1257.0,711.4 1257.5,717.5 1258.0,712.8 1258.5,712.1 1259.0,713.1 1259.5,710.1 1260.0,717.5 1260.5,715.0 1261.0,713.4 1261.5,718.4 1262.0,712.4 1262.5,711.7 1263.0,709.9 1263.5,707.6 1264.0,708.4 1264.5,717.8 1265.0,712.2 1265.5,714.0 1266.0,716.9 1266.5,713.0 1267.0,709.1 1267.5,711.5 1268.0,710.5 1268.5,716.5 1269.0,711.2 1269.5,711.8 1270.0,716.7 1270.5,715.3 1271.0,715.7 1271.5,716.3 1272.0,721.6 1272.5,713.3 1273.0,712.1 1273.5,720.2 1274.0,709.6 1274.5,706.8 1275.0,717.6 1275.5,713.8 1276.0,717.0 1276.5,718.8 1277.0,715.3 1277.5,722.6 1278.0,717.2 1278.5,726.2 1279.0,728.7 1279.5,723.1 1280.0,731.3 1280.5,729.0 1281.0,736.3 1281.5,730.3 1282.0,724.4 1282.5,725.3 1283.0,736.6 1283.5,732.2 1284.0,735.7 1284.5,729.7 1285.0,730.8 1285.5,723.5 1286.0,732.2 1286.5,732.9 1287.0,726.6 1287.5,731.3 1288.0,726.8 1288.5,731.0 1289.0,727.9 1289.5,731.3 1290.0,731.0 1290.5,722.0 1291.0,735.4 1291.5,721.9 1292.0,719.6 1292.5,725.9 1293.0,722.4 1293.5,723.5 1294.0,720.7 1294.5,725.8 1295.0,726.3 1295.5,721.4 1296.0,734.3 1296.5,728.4 1297.0,733.0 1297.5,733.0 1298.0,738.5 1298.5,740.2 1299.0,738.9 1299.5,742.1 1300.0,747.6 1300.5,739.1 1301.0,731.2 1301.5,733.7 1302.0,730.8 1302.5,735.6 1303.0,736.9 1303.5,738.0 1304.0,737.9 1304.5,748.7 1305.0,739.5 1305.5,746.0 1306.0,743.2 1306.5,751.1 1307.0,750.5 1307.5,747.7 1308.0,753.3 1308.5,742.1 1309.0,740.5 1309.5,746.3 1310.0,742.7 1310.5,736.4 1311.0,741.3 1311.5,736.9 1312.0,736.2 1312.5,740.7 1313.0,740.2 1313.5,737.6 1314.0,730.1 1314.5,733.0 1315.0,735.8 1315.5,736.3 1316.0,735.5 1316.5,746.6 1317.0,737.3 1317.5,739.3 1318.0,736.5 1318.5,739.5 1319.0,741.4 1319.5,744.6 1320.0,732.6 1320.5,748.6 1321.0,746.9 1321.5,745.2 1322.0,739.2 1322.5,734.8 1323.0,735.8 1323.5,741.6 1324.0,741.3 1324.5,739.1 1325.0,742.1 1325.5,736.0 1326.0,734.9 1326.5,742.5 1327.0,740.6 1327.5,738.2 1328.0,738.6 1328.5,734.2 1329.0,729.3 1329.5,734.4 1330.0,742.4 1330.5,736.3 1331.0,740.8 1331.5,741.4 1332.0,736.5 1332.5,742.5 1333.0,741.2 1333.5,735.3 1334.0,744.1 1334.5,735.2 1335.0,740.0 1335.5,739.5 1336.0,728.8 1336.5,735.0 1337.0,741.6 1337.5,742.7 1338.0,748.1 1338.5,745.5 1339.0,747.4 1339.5,746.2 1340.0,748.7 1340.5,740.8 1341.0,736.6 1341.5,744.4 1342.0,740.6 1342.5,737.8 1343.0,745.6 1343.5,733.8 1344.0,738.5 1344.5,744.1 1345.0,741.5 1345.5,742.3 1346.0,746.7 1346.5,745.5 1347.0,741.6 1347.5,743.7"/>
<polyline points="207.5,856.9 208.0,853.3 208.5,858.0 209.0,854.3 209.5,854.8 210.0,856.7 210.5,856.5 211.0,853.1 211.5,857.5 212.0,857.1 212.5,859.3 213.0,859.0 213.5,860.2 214.0,859.3 214.5,858.0 215.0,859.5 215.5,854.0 216.0,855.0 216.5,853.3 217.0,854.2 217.5,853.5 218.0,853.9 218.5,853.6 219.0,854.0 219.5,852.5 220.0,855.8 220.5,857.0 221.0,855.9 221.5,856.2 222.0,856.4 222.5,860.3 223.0,857.7 223.5,857.8 224.0,856.4 224.5,855.7 225.0,854.7 225.5,858.4 226.0,852.6 226.5,855.6 227.0,854.7 227.5,854.1 228.0,851.7 228.5,852.3 229.0,856.1 229.5,853.5 230.0,856.4 230.5,856.4 231.0,856.6 231.5,857.2 232.0,854.1 232.5,855.5 233.0,857.6 233.5,854.3 234.0,859.2 234.5,855.2 235.0,854.8 235.5,853.6 236.0,855.5 236.5,853.3 237.0,853.9 237.5,852.3 238.0,856.2 238.5,851.5 239.0,855.3 239.5,855.4 240.0,865.4 240.5,854.2 241.0,858.1 241.5,858.2 242.0,856.9 242.5,857.0 243.0,855.7 243.5,856.5 244.0,853.2 244.5,854.8 245.0,853.9 245.5,850.4 246.0,848.3 246.5,852.8 247.0,853.3 247.5,856.2 248.0,854.8 248.5,854.3 249.0,853.0 249.5,855.0 250.0,853.9 250.5,852.6 251.0,853.9 251.5,855.7 252.0,853.8 252.5,851.8 253.0,849.3 253.5,857.2 254.0,850.7 254.5,854.1 255.0,852.1 255.5,854.7 256.0,847.2 256.5,850.8 257.0,852.3 257.5,853.9 258.0,851.1 258.5,849.5 259.0,850.1 259.5,850.7 260.0,848.9 260.5,852.3 261.0,851.2 261.5,852.2 262.0,849.5 262.5,851.4 263.0,851.6 263.5,852.8 264.0,849.2 264.5,848.5 265.0,849.4 265.5,848.5 266.0,848.7 266.5,850.5 267.0,847.8 267.5,849.4 268.0,847.7 268.5,849.6 269.0,848.9 269.5,848.7 270.0,849.5 270.5,848.8 271.0,849.8 271.5,839.7 272.0,845.6 272.5,849.5 273.0,843.4 273.5,852.8 274.0,848.0 274.5,845.5 275.0,846.2 275.5,845.1 276.0,848.1 276.5,841.5 277.0,845.1 277.5,843.9 278.0,848.2 278.5,850.9 279.0,851.3 279.5,850.8 280.0,852.5 280.5,854.5 281.0,851.2 281.5,849.5 282.0,846.1 282.5,844.5 283.0,845.0 283.5,847.5 284.0,847.4 284.5,847.9 285.0,843.7 285.5,844.8 286.0,848.4 286.5,846.9 287.0,848.4 287.5,845.1 288.0,846.9 288.5,847.3 289.0,846.1 289.5,845.2 290.0,842.0 290.5,846.9 291.0,843.5 291.5,840.2 292.0,844.5 292.5,842.6 293.0,843.6 293.5,841.8 294.0,840.6 294.5,840.7 295.0,842.9 295.5,844.3 296.0,844.4 296.5,845.3 297.0,846.7 297.5,845.1 298.0,846.1 298.5,845.7 299.0,843.5 299.5,842.1 300.0,840.9 300.5,839.0 301.0,838.0 301.5,842.8 302.0,840.0 302.5,838.6 303.0,841.9 303.5,840.3 304.0,831.4 304.5,839.5 305.0,837.1 305.5,838.1 306.0,840.9 306.5,839.7 307.0,837.3 307.5,839.0 308.0,839.7 308.5,836.8 309.0,832.3 309.5,839.2 310.0,834.6 310.5,832.3 311.0,834.7 311.5,837.9 312.0,835.3 312.5,835.8 313.0,829.8 313.5,832.5 314.0,835.5 314.5,837.7 315.0,835.1 315.5,832.6 316.0,832.9 316.5,835.1 317.0,830.8 317.5,830.7 318.0,831.7 318.5,831.7 319.0,822.4 319.5,833.2 320.0,831.1 320.5,830.1 321.0,831.3 321.5,829.2 322.0,832.0 322.5,829.5 323.0,830.4 323.5,826.9 324.0,827.6 324.5,828.3 325.0,825.3 325.5,825.2 326.0,825.7 326.5,827.2 327.0,825.6 327.5,824.9 328.0,822.8 328.5,832.2 329.0,823.6 329.5,820.6 330.0,820.8 330.5,821.0 331.0,815.8 331.5,819.2 332.0,819.9 332.5,820.1 333.0,817.7 333.5,819.9 334.0,805.8 334.5,816.7 335.0,819.8 335.5,813.2 336.0,815.0 336.5,814.2 337.0,813.8 337.5,812.3 338.0,814.1 338.5,810.0 339.0,808.7 339.5,811.5 340.0,807.2 340.5,809.6 341.0,808.2 341.5,806.4 342.0,807.1 342.5,807.8 343.0,809.2 343.5,807.3 344.0,808.4 344.5,805.8 345.0,807.9 345.5,804.1 346.0,807.3 346.5,805.7 347.0,810.0 347.5,807.4 348.0,803.7 348.5,805.4 349.0,803.9 349.5,801.0 350.0,798.7 350.5,806.3 351.0,804.8 351.5,799.7 352.0,804.5 352.5,804.1 353.0,799.6 353.5,801.2 354.0,794.6 354.5,796.5 355.0,802.4 355.5,797.0 356.0,795.7 356.5,795.0 357.0,795.4 357.5,792.4 358.0,796.4 358.5,791.9 359.0,793.7 359.5,791.6 360.0,791.0 360.5,792.9 361.0,793.1 361.5,795.5 362.0,795.3 362.5,792.0 363.0,794.1 363.5,792.8 364.0,790.3 364.5,788.9 365.0,791.0 365.5,788.4 366.0,785.4 366.5,787.1 367.0,786.8 367.5,785.6 368.0,786.8 368.5,783.2 369.0,787.2 369.5,782.4 370.0,783.1 370.5,788.6 371.0,783.9 371.5,781.6 372.0,778.0 372.5,782.7 373.0,778.8 373.5,781.6 374.0,779.5 374.5,777.3 375.0,784.1 375.5,779.5 376.0,781.1 376.5,780.0 377.0,776.1 377.5,777.3 378.0,775.7 378.5,778.1 379.0,776.4 379.5,774.0 380.0,778.0 380.5,774.7 381.0,773.8 381.5,770.1 382.0,771.7 382.5,766.0 383.0,769.0 383.5,764.3 384.0,765.6 384.5,763.6 385.0,764.1 385.5,764.1 386.0,763.1 386.5,763.0 387.0,759.5 387.5,758.1 388.0,764.8 388.5,762.2 389.0,756.2 389.5,760.5 390.0,755.8 390.5,757.8 391.0,756.7 391.5,755.0 392.0,755.2 392.5,749.0 393.0,750.7 393.5,748.4 394.0,747.5 394.5,745.0 395.0,742.7 395.5,741.3 396.0,744.3 396.5,739.3 397.0,741.6 397.5,737.1 398.0,739.6 398.5,740.5 399.0,740.5 399.5,737.2 400.0,738.4 400.5,740.8 401.0,730.9 401.5,729.7 402.0,724.8 402.5,728.3 403.0,716.5 403.5,717.8 404.0,718.8 404.5,713.3 405.0,714.6 405.5,712.5 406.0,710.0 406.5,712.4 407.0,712.7 407.5,709.1 408.0,709.4 408.5,709.6 409.0,709.9 409.5,702.3 410.0,706.4 410.5,702.1 411.0,697.8 411.5,700.1 412.0,703.1 412.5,701.2 413.0,695.9 413.5,701.7 414.0,696.2 414.5,692.5 415.0,688.7 415.5,689.0 416.0,684.6 416.5,687.3 417.0,684.0 417.5,684.4 418.0,681.8 418.5,678.5 419.0,684.0 419.5,678.9 420.0,680.3 420.5,679.0 421.0,675.0 421.5,677.6 422.0,668.3 422.5,673.9 423.0,664.7 423.5,666.4 424.0,664.9 424.5,656.9 425.0,656.3 425.5,665.4 426.0,658.2 426.5,657.4 427.0,650.6 427.5,649.2 428.0,652.8 428.5,651.9 429.0,641.4 429.5,636.6 430.0,635.3 430.5,631.8 431.0,629.6 431.5,621.3 432.0,621.5 432.5,619.7 433.0,610.7 433.5,612.9 434.0,600.8 434.5,605.4 435.0,600.8 435.5,597.0 436.0,601.0 436.5,599.9 437.0,590.8 437.5,594.4 438.0,587.8 438.5,585.2 439.0,586.6 439.5,583.7 440.0,583.2 440.5,573.8 441.0,575.7 441.5,571.4 442.0,563.8 442.5,557.3 443.0,550.4 443.5,553.9 444.0,548.4 444.5,546.7 445.0,538.7 445.5,536.8 446.0,531.2 446.5,524.3 447.0,517.1 447.5,509.3 448.0,504.5 448.5,494.2 449.0,494.1 449.5,487.8 450.0,481.1 450.5,474.2 451.0,475.8 451.5,466.3 452.0,457.6 452.5,452.7 453.0,445.7 453.5,437.4 454.0,428.4 454.5,426.7 455.0,419.7 455.5,413.5 456.0,411.3 456.5,398.6 457.0,393.5 457.5,390.5 458.0,386.2 458.5,379.0 459.0,372.6 459.5,356.7 460.0,356.5 460.5,347.8 461.0,339.8 461.5,327.4 462.0,323.4 462.5,318.2 463.0,314.1 463.5,304.5 464.0,294.1 464.5,291.9 465.0,286.6 465.5,277.6 466.0,272.6 466.5,242.2 467.0,227.5 467.5,213.7 468.0,204.8 468.5,191.8 469.0,185.8 469.5,182.0 470.0,183.3 470.5,177.7 471.0,173.7 471.5,172.9 472.0,170.0 472.5,166.6 473.0,167.6 473.5,169.1 474.0,172.0 474.5,179.0 475.0,187.7 475.5,194.8 476.0,198.5 476.5,200.2 477.0,205.7 477.5,202.9 478.0,216.0 478.5,211.3 479.0,213.5 479.5,213.5 480.0,219.7 480.5,212.7 481.0,219.6 481.5,226.9 482.0,226.7 482.5,236.3 483.0,233.6 483.5,236.9 484.0,245.5 484.5,244.6 485.0,248.7 485.5,247.8 486.0,252.4 486.5,264.9 487.0,280.6 487.5,290.7 488.0,298.5 488.5,309.1 489.0,316.9 489.5,313.2 490.0,321.0 490.5,318.4 491.0,323.1 491.5,330.2 492.0,336.9 492.5,337.4 493.0,344.4 493.5,349.8 494.0,358.6 494.5,359.5 495.0,371.6 495.5,375.6 496.0,382.6 496.5,389.9 497.0,395.5 497.5,400.5 498.0,409.2 498.5,415.2 499.0,433.3 499.5,443.4 500.0,449.0 500.5,462.8 501.0,462.0 501.5,462.4 502.0,465.2 502.5,467.1 503.0,471.3 503.5,477.6 504.0,477.9 504.5,482.7 505.0,497.6 505.5,501.8 506.0,505.3 506.5,508.1 507.0,518.3 507.5,525.8 508.0,530.0 508.5,535.4 509.0,538.4 509.5,547.6 510.0,549.0 510.5,555.6 511.0,560.3 511.5,563.4 512.0,573.4 512.5,562.7 513.0,566.0 513.5,558.9 514.0,554.4 514.5,550.1 515.0,547.5 515.5,548.8 516.0,553.2 516.5,544.3 517.0,545.5 517.5,543.1 518.0,550.0 518.5,547.8 519.0,556.3 519.5,558.2 520.0,564.8 520.5,561.5 521.0,568.0 521.5,564.7 522.0,565.1 522.5,572.8 523.0,575.8 523.5,570.3 524.0,571.3 524.5,564.1 525.0,562.0 525.5,558.6 526.0,551.5 526.5,553.1 527.0,558.3 527.5,552.9 528.0,557.4 528.5,558.1 529.0,558.5 529.5,564.1 530.0,567.9 530.5,571.4 531.0,564.2 531.5,578.5 532.0,572.8 532.5,577.6 533.0,574.2 533.5,572.4 534.0,566.5 534.5,575.4 535.0,565.2 535.5,555.1 536.0,555.1 536.5,558.3 537.0,557.6 537.5,557.3 538.0,557.7 538.5,555.9 539.0,561.3 539.5,560.1 540.0,559.8 540.5,547.3 541.0,547.5 541.5,543.1 542.0,545.3 542.5,540.3 543.0,538.1 543.5,534.4 544.0,540.6 544.5,542.3 545.0,537.6 545.5,529.6 546.0,535.9 546.5,523.1 547.0,523.7 547.5,520.7 548.0,520.6 548.5,519.2 549.0,514.8 549.5,512.3 550.0,513.9 550.5,510.8 551.0,510.5 551.5,506.0 552.0,507.6 552.5,505.8 553.0,503.9 553.5,493.7 554.0,491.1 554.5,493.6 555.0,482.4 555.5,479.2 556.0,474.3 556.5,467.3 557.0,465.0 557.5,465.6 558.0,458.6 558.5,462.9 559.0,449.0 559.5,445.0 560.0,456.7 560.5,444.1 561.0,451.5 561.5,445.8 562.0,448.1 562.5,440.9 563.0,445.2 563.5,442.7 564.0,446.5 564.5,435.3 565.0,432.5 565.5,427.2 566.0,421.5 566.5,405.6 567.0,396.9 567.5,383.5 568.0,378.2 568.5,367.4 569.0,359.2 569.5,351.5 570.0,351.4 570.5,334.2 571.0,325.2 571.5,321.0 572.0,304.6 572.5,294.8 573.0,284.0 573.5,282.8 574.0,265.2 574.5,257.1 575.0,249.8 575.5,242.9 576.0,234.9 576.5,220.1 577.0,221.7 577.5,213.6 578.0,194.7 578.5,195.5 579.0,190.8 579.5,183.5 580.0,175.6 580.5,159.7 581.0,149.5 581.5,123.2 582.0,117.4 582.5,116.5 583.0,105.1 583.5,107.4 584.0,106.2 584.5,104.3 585.0,102.6 585.5,103.0 586.0,101.3 586.5,103.8 587.0,108.5 587.5,112.3 588.0,118.3 588.5,132.1 589.0,133.1 589.5,139.0 590.0,131.3 590.5,149.2 591.0,151.6 591.5,158.0 592.0,165.0 592.5,163.6 593.0,166.6 593.5,174.9 594.0,175.2 594.5,179.9 595.0,190.5 595.5,197.4 596.0,209.3 596.5,221.1 597.0,235.9 597.5,245.0 598.0,256.4 598.5,262.7 599.0,278.4 599.5,291.4 600.0,305.1 600.5,316.0 601.0,335.1 601.5,354.1 602.0,367.6 602.5,386.6 603.0,404.0 603.5,414.2 604.0,431.3 604.5,444.6 605.0,464.1 605.5,477.9 606.0,497.4 606.5,503.5 607.0,514.9 607.5,533.6 608.0,546.6 608.5,562.7 609.0,580.1 609.5,588.5 610.0,597.7 610.5,611.8 611.0,623.1 611.5,628.6 612.0,635.1 612.5,641.7 613.0,654.7 613.5,655.9 614.0,667.9 614.5,668.8 615.0,676.4 615.5,683.1 616.0,693.7 616.5,694.6 617.0,700.8 617.5,706.2 618.0,711.7 618.5,716.5 619.0,727.8 619.5,730.7 620.0,727.9 620.5,732.5 621.0,731.1 621.5,738.9 622.0,740.8 622.5,742.5 623.0,743.8 623.5,751.4 624.0,754.6 624.5,756.0 625.0,761.3 625.5,759.0 626.0,763.3 626.5,764.6 627.0,768.9 627.5,772.0 628.0,771.0 628.5,781.0 629.0,772.0 629.5,771.6 630.0,775.6 630.5,774.9 631.0,777.2 631.5,776.0 632.0,771.3 632.5,766.4 633.0,771.9 633.5,768.1 634.0,767.2 634.5,762.1 635.0,769.5 635.5,771.1 636.0,771.0 636.5,777.5 637.0,770.2 637.5,773.5 638.0,771.2 638.5,772.7 639.0,776.2 639.5,778.2 640.0,775.2 640.5,781.6 641.0,777.0 641.5,781.4 642.0,778.6 642.5,780.3 643.0,779.0 643.5,776.5 644.0,777.9 644.5,773.1 645.0,772.6 645.5,774.1 646.0,777.6 646.5,772.3 647.0,772.6 647.5,778.3 648.0,777.4 648.5,775.3 649.0,773.2 649.5,776.0 650.0,777.3 650.5,775.9 651.0,778.1 651.5,777.6 652.0,779.9 652.5,780.0 653.0,778.1 653.5,780.6 654.0,782.8 654.5,779.3 655.0,775.9 655.5,779.4 656.0,779.5 656.5,786.2 657.0,782.7 657.5,779.2 658.0,782.1 658.5,786.7 659.0,781.4 659.5,783.7 660.0,785.3 660.5,785.2 661.0,784.1 661.5,785.3 662.0,780.9 662.5,781.9 663.0,781.0 663.5,781.0 664.0,780.6 664.5,781.2 665.0,780.7 665.5,781.0 666.0,783.3 666.5,785.0 667.0,785.6 667.5,781.2 668.0,785.0 668.5,786.9 669.0,785.4 669.5,787.9 670.0,786.9 670.5,788.4 671.0,783.6 671.5,787.4 672.0,784.4 672.5,783.2 673.0,784.0 673.5,787.3 674.0,788.0 674.5,787.3 675.0,789.4 675.5,778.0 676.0,784.9 676.5,783.1 677.0,786.7 677.5,785.7 678.0,785.5 678.5,785.0 679.0,787.1 679.5,781.7 680.0,781.6 680.5,787.3 681.0,784.4 681.5,781.7 682.0,777.8 682.5,780.8 683.0,782.6 683.5,784.2 684.0,786.0 684.5,786.3 685.0,790.4 685.5,783.8 686.0,787.7 686.5,786.5 687.0,789.4 687.5,787.6 688.0,788.9 688.5,787.5 689.0,794.9 689.5,789.5 690.0,786.3 690.5,788.1 691.0,787.2 691.5,790.0 692.0,790.4 692.5,781.6 693.0,786.6 693.5,784.4 694.0,794.5 694.5,786.1 695.0,777.1 695.5,782.8 696.0,781.0 696.5,782.7 697.0,788.2 697.5,782.2 698.0,782.5 698.5,790.4 699.0,783.2 699.5,783.3 700.0,786.2 700.5,782.2 701.0,783.3 701.5,783.6 702.0,781.5 702.5,777.9 703.0,778.8 703.5,779.5 704.0,781.4 704.5,777.8 705.0,781.1 705.5,780.1 706.0,782.0 706.5,787.5 707.0,785.4 707.5,793.7 708.0,788.2 708.5,790.1 709.0,789.2 709.5,783.8 710.0,784.0 710.5,788.9 711.0,785.5 711.5,788.8 712.0,787.8 712.5,786.6 713.0,791.6 713.5,790.7 714.0,789.1 714.5,789.5 715.0,785.2 715.5,788.1 716.0,782.5 716.5,786.5 717.0,779.8 717.5,778.9 718.0,782.3 718.5,781.2 719.0,778.0 719.5,782.5 720.0,782.0 720.5,782.6 721.0,784.2 721.5,784.0 722.0,784.5 722.5,783.0 723.0,782.5 723.5,781.6 724.0,791.0 724.5,780.9 725.0,783.3 725.5,789.0 726.0,791.1 726.5,784.6 727.0,790.3 727.5,788.6 728.0,789.1 728.5,795.0 729.0,786.9 729.5,790.7 730.0,786.9 730.5,784.7 731.0,790.0 731.5,789.5 732.0,789.2 732.5,787.3 733.0,781.1 733.5,786.0 734.0,787.3 734.5,788.2 735.0,782.3 735.5,782.5 736.0,783.0 736.5,783.0 737.0,774.4 737.5,782.3 738.0,787.5 738.5,781.3 739.0,779.6 739.5,783.7 740.0,783.3 740.5,786.0 741.0,782.3 741.5,783.0 742.0,786.7 742.5,779.6 743.0,782.0 743.5,777.6 744.0,779.8 744.5,780.9 745.0,777.7 745.5,780.0 746.0,780.7 746.5,783.5 747.0,776.7 747.5,780.9 748.0,783.3 748.5,781.2 749.0,783.1 749.5,784.7 750.0,784.4 750.5,779.3 751.0,780.8 751.5,777.3 752.0,785.9 752.5,785.0 753.0,787.6 753.5,784.1 754.0,780.6 754.5,785.2 755.0,778.9 755.5,781.7 756.0,781.0 756.5,783.3 757.0,783.6 757.5,780.3 758.0,779.6 758.5,780.8 759.0,779.3 759.5,782.7 760.0,781.0 760.5,779.4 761.0,785.7 761.5,777.1 762.0,777.6 762.5,780.4 763.0,780.6 763.5,779.2 764.0,774.9 764.5,786.6 765.0,780.4 765.5,776.7 766.0,773.0 766.5,781.4 767.0,778.3 767.5,777.3 768.0,775.0 768.5,777.7 769.0,777.4 769.5,772.8 770.0,785.7 770.5,780.3 771.0,778.2 771.5,776.2 772.0,776.2 772.5,782.6 773.0,776.7 773.5,771.6 774.0,776.3 774.5,774.8 775.0,774.3 775.5,772.2 776.0,771.7 776.5,772.5 777.0,771.8 777.5,769.7 778.0,772.0 778.5,776.0 779.0,773.7 779.5,778.7 780.0,779.1 780.5,781.9 781.0,780.2 781.5,778.4 782.0,776.8 782.5,778.5 783.0,779.3 783.5,774.2 784.0,766.6 784.5,775.6 785.0,772.2 785.5,776.3 786.0,780.6 786.5,780.9 787.0,781.9 787.5,777.6 788.0,776.9 788.5,774.1 789.0,773.6 789.5,775.3 790.0,776.9 790.5,776.0 791.0,770.2 791.5,776.7 792.0,775.8 792.5,774.7 793.0,776.9 793.5,779.1 794.0,777.3 794.5,774.8 795.0,784.1 795.5,773.4 796.0,775.2 796.5,776.5 797.0,770.7 797.5,773.8 798.0,770.1 798.5,773.3 799.0,770.0 799.5,776.3 800.0,768.7 800.5,773.6 801.0,772.7 801.5,767.9 802.0,777.2 802.5,771.6 803.0,772.6 803.5,774.1 804.0,771.8 804.5,772.7 805.0,775.1 805.5,773.6 806.0,776.6 806.5,780.0 807.0,774.8 807.5,773.7 808.0,777.6 808.5,779.1 809.0,779.8 809.5,775.3 810.0,772.2 810.5,780.4 811.0,780.1 811.5,782.1 812.0,775.5 812.5,778.4 813.0,778.3 813.5,769.9 814.0,776.0 814.5,776.4 815.0,774.1 815.5,777.6 816.0,774.9 816.5,772.6 817.0,769.8 817.5,771.1 818.0,773.0 818.5,771.3 819.0,775.7 819.5,771.7 820.0,771.8 820.5,767.0 821.0,772.0 821.5,769.2 822.0,775.1 822.5,768.2 823.0,774.8 823.5,774.7 824.0,776.6 824.5,783.4 825.0,783.0 825.5,780.9 826.0,783.8 826.5,780.0 827.0,782.6 827.5,774.8 828.0,776.7 828.5,775.5 829.0,774.5 829.5,771.0 830.0,769.5 830.5,775.3 831.0,777.3 831.5,776.2 832.0,775.4 832.5,761.0 833.0,775.9 833.5,775.4 834.0,775.2 834.5,777.6 835.0,777.7 835.5,778.3 836.0,776.4 836.5,772.3 837.0,775.1 837.5,773.5 838.0,768.9 838.5,770.9 839.0,766.8 839.5,765.9 840.0,769.1 840.5,770.4 841.0,774.8 841.5,773.3 842.0,776.2 842.5,779.1 843.0,776.3 843.5,777.3 844.0,775.0 844.5,779.1 845.0,777.5 845.5,777.9 846.0,775.1 846.5,775.6 847.0,776.0 847.5,777.4 848.0,779.3 848.5,772.3 849.0,774.6 849.5,774.4 850.0,780.5 850.5,774.2 851.0,773.5 851.5,777.1 852.0,773.1 852.5,777.9 853.0,772.9 853.5,782.0 854.0,777.2 854.5,775.8 855.0,772.9 855.5,774.9 856.0,774.5 856.5,771.4 857.0,775.2 857.5,770.3 858.0,770.6 858.5,770.6 859.0,768.5 859.5,769.3 860.0,771.2 860.5,772.5 861.0,771.8 861.5,769.2 862.0,774.6 862.5,770.2 863.0,767.1 863.5,767.4 864.0,762.1 864.5,762.4 865.0,767.6 865.5,772.2 866.0,770.5 866.5,773.5 867.0,773.1 867.5,776.5 868.0,773.3 868.5,774.9 869.0,772.2 869.5,769.9 870.0,769.2 870.5,769.5 871.0,773.7 871.5,778.5 872.0,769.8 872.5,768.6 873.0,772.1 873.5,772.6 874.0,770.8 874.5,778.0 875.0,776.3 875.5,777.4 876.0,776.1 876.5,777.0 877.0,779.6 877.5,773.7 878.0,774.7 878.5,776.1 879.0,771.1 879.5,777.7 880.0,771.0 880.5,770.7 881.0,772.2 881.5,777.4 882.0,771.1 882.5,773.8 883.0,768.9 883.5,771.7 884.0,769.3 884.5,776.2 885.0,772.4 885.5,760.3 886.0,764.7 886.5,767.2 887.0,771.8 887.5,760.8 888.0,765.1 888.5,769.9 889.0,765.8 889.5,768.4 890.0,767.4 890.5,770.0 891.0,765.5 891.5,767.4 892.0,762.2 892.5,764.2 893.0,764.6 893.5,762.1 894.0,762.0 894.5,762.4 895.0,773.4 895.5,765.1 896.0,767.1 896.5,767.5 897.0,767.4 897.5,768.6 898.0,768.7 898.5,770.8 899.0,769.6 899.5,773.7 900.0,767.9 900.5,768.3 901.0,766.3 901.5,768.0 902.0,775.8 902.5,764.8 903.0,770.3 903.5,766.2 904.0,764.1 904.5,764.8 905.0,766.7 905.5,767.7 906.0,770.5 906.5,765.3 907.0,766.4 907.5,764.4 908.0,764.2 908.5,765.5 909.0,764.5 909.5,769.3 910.0,771.5 910.5,767.7 911.0,766.9 911.5,771.1 912.0,765.7 912.5,768.4 913.0,756.2 913.5,761.1 914.0,757.8 914.5,758.2 915.0,760.9 915.5,761.1 916.0,757.7 916.5,760.7 917.0,756.1 917.5,760.6 918.0,760.7 918.5,757.7 919.0,765.3 919.5,761.8 920.0,764.9 920.5,761.8 921.0,764.1 921.5,765.1 922.0,763.2 922.5,761.7 923.0,764.3 923.5,763.4 924.0,762.3 924.5,764.4 925.0,765.2 925.5,765.5 926.0,769.4 926.5,771.5 927.0,765.0 927.5,764.9 928.0,761.5 928.5,759.3 929.0,764.8 929.5,754.6 930.0,762.4 930.5,758.3 931.0,760.6 931.5,763.9 932.0,763.8 932.5,762.6 933.0,762.0 933.5,760.1 934.0,760.7 934.5,758.8 935.0,761.0 935.5,751.9 936.0,752.2 936.5,753.8 937.0,760.0 937.5,758.7 938.0,753.2 938.5,756.0 939.0,756.1 939.5,761.5 940.0,757.3 940.5,753.7 941.0,752.2 941.5,757.3 942.0,750.9 942.5,757.0 943.0,755.9 943.5,749.4 944.0,751.1 944.5,752.1 945.0,748.7 945.5,750.6 946.0,754.0 946.5,757.9 947.0,761.2 947.5,757.8 948.0,765.2 948.5,765.2 949.0,764.8 949.5,763.6 950.0,766.2 950.5,766.0 951.0,760.9 951.5,761.2 952.0,757.0 952.5,759.8 953.0,762.2 953.5,759.5 954.0,760.3 954.5,758.8 955.0,759.2 955.5,760.6 956.0,760.6 956.5,752.7 957.0,756.4 957.5,747.7 958.0,754.0 958.5,750.8 959.0,749.0 959.5,753.3 960.0,748.6 960.5,749.7 961.0,747.6 961.5,750.3 962.0,745.4 962.5,746.2 963.0,747.8 963.5,756.1 964.0,749.4 964.5,751.5 965.0,755.7 965.5,754.6 966.0,750.7 966.5,756.7 967.0,753.0 967.5,755.3 968.0,752.5 968.5,752.4 969.0,747.5 969.5,752.7 970.0,746.2 970.5,747.9 971.0,750.5 971.5,746.7 972.0,748.5 972.5,749.0 973.0,750.3 973.5,752.3 974.0,747.3 974.5,750.1 975.0,756.5 975.5,745.8 976.0,749.0 976.5,752.3 977.0,744.1 977.5,742.7 978.0,745.2 978.5,751.0 979.0,743.3 979.5,746.5 980.0,741.8 980.5,742.3 981.0,737.8 981.5,735.8 982.0,738.1 982.5,735.5 983.0,739.2 983.5,740.6 984.0,741.8 984.5,745.0 985.0,744.3 985.5,736.5 986.0,736.8 986.5,743.4 987.0,741.2 987.5,738.4 988.0,743.6 988.5,739.9 989.0,745.1 989.5,742.0 990.0,746.4 990.5,741.8 991.0,743.8 991.5,743.6 992.0,744.4 992.5,737.0 993.0,738.0 993.5,735.3 994.0,735.1 994.5,739.5 995.0,742.3 995.5,746.0 996.0,741.4 996.5,747.8 997.0,742.2 997.5,743.3 998.0,738.9 998.5,734.9 999.0,742.0 999.5,735.6 1000.0,739.1 1000.5,734.7 1001.0,737.6 1001.5,735.6 1002.0,731.0 1002.5,735.5 1003.0,740.9 1003.5,731.7 1004.0,732.3 1004.5,738.5 1005.0,734.5 1005.5,738.4 1006.0,735.2 1006.5,739.4 1007.0,743.8 1007.5,741.0 1008.0,741.5 1008.5,740.0 1009.0,741.9 1009.5,736.8 1010.0,737.6 1010.5,743.7 1011.0,737.3 1011.5,746.1 1012.0,744.4 1012.5,737.8 1013.0,734.3 1013.5,732.8 1014.0,739.8 1014.5,737.3 1015.0,740.0 1015.5,740.9 1016.0,737.3 1016.5,728.1 1017.0,739.4 1017.5,729.8 1018.0,728.4 1018.5,731.0 1019.0,731.8 1019.5,734.1 1020.0,740.4 1020.5,736.1 1021.0,735.2 1021.5,737.4 1022.0,737.4 1022.5,735.6 1023.0,734.4 1023.5,730.9 1024.0,732.9 1024.5,730.6 1025.0,724.9 1025.5,730.6 1026.0,732.9 1026.5,728.0 1027.0,728.1 1027.5,732.4 1028.0,730.7 1028.5,731.5 1029.0,726.6 1029.5,735.5 1030.0,727.6 1030.5,728.9 1031.0,724.8 1031.5,726.8 1032.0,719.7 1032.5,723.7 1033.0,721.4 1033.5,733.2 1034.0,726.6 1034.5,726.3 1035.0,734.3 1035.5,729.0 1036.0,729.8 1036.5,733.8 1037.0,732.7 1037.5,733.1 1038.0,735.1 1038.5,727.6 1039.0,738.5 1039.5,737.0 1040.0,737.3 1040.5,723.3 1041.0,725.2 1041.5,724.1 1042.0,729.5 1042.5,724.6 1043.0,727.4 1043.5,722.5 1044.0,718.3 1044.5,715.3 1045.0,716.4 1045.5,721.3 1046.0,713.1 1046.5,712.0 1047.0,715.7 1047.5,719.7 1048.0,724.6 1048.5,723.1 1049.0,725.0 1049.5,719.0 1050.0,725.6 1050.5,726.7 1051.0,728.1 1051.5,730.3 1052.0,726.4 1052.5,725.0 1053.0,718.6 1053.5,715.0 1054.0,715.0 1054.5,715.0 1055.0,716.6 1055.5,712.0 1056.0,720.5 1056.5,716.9 1057.0,716.9 1057.5,719.7 1058.0,714.6 1058.5,718.8 1059.0,721.8 1059.5,715.0 1060.0,713.2 1060.5,709.9 1061.0,715.5 1061.5,713.5 1062.0,704.2 1062.5,712.1 1063.0,706.4 1063.5,704.4 1064.0,707.5 1064.5,704.6 1065.0,709.4 1065.5,700.0 1066.0,698.6 1066.5,698.9 1067.0,701.1 1067.5,703.2 1068.0,697.1 1068.5,697.8 1069.0,694.1 1069.5,697.5 1070.0,693.3 1070.5,702.7 1071.0,700.6 1071.5,689.9 1072.0,692.9 1072.5,693.7 1073.0,690.5 1073.5,691.1 1074.0,699.9 1074.5,691.2 1075.0,690.3 1075.5,690.0 1076.0,693.0 1076.5,686.4 1077.0,687.5 1077.5,686.1 1078.0,687.1 1078.5,683.1 1079.0,681.1 1079.5,679.1 1080.0,685.5 1080.5,679.8 1081.0,677.8 1081.5,679.6 1082.0,687.8 1082.5,682.7 1083.0,673.5 1083.5,684.8 1084.0,679.8 1084.5,674.3 1085.0,681.4 1085.5,672.7 1086.0,677.8 1086.5,671.1 1087.0,676.9 1087.5,671.8 1088.0,675.9 1088.5,674.5 1089.0,665.7 1089.5,669.4 1090.0,667.3 1090.5,662.4 1091.0,652.6 1091.5,656.1 1092.0,649.0 1092.5,649.4 1093.0,635.9 1093.5,639.1 1094.0,632.5 1094.5,639.2 1095.0,624.6 1095.5,626.5 1096.0,625.3 1096.5,623.0 1097.0,629.7 1097.5,624.6 1098.0,626.6 1098.5,614.7 1099.0,614.2 1099.5,618.8 1100.0,611.5 1100.5,618.1 1101.0,618.2 1101.5,610.6 1102.0,610.4 1102.5,609.3 1103.0,606.6 1103.5,605.4 1104.0,601.9 1104.5,601.2 1105.0,595.1 1105.5,591.7 1106.0,590.4 1106.5,587.8 1107.0,589.0 1107.5,591.0 1108.0,596.4 1108.5,582.0 1109.0,581.9 1109.5,585.4 1110.0,584.2 1110.5,582.2 1111.0,587.8 1111.5,572.1 1112.0,576.7 1112.5,570.5 1113.0,572.3 1113.5,573.7 1114.0,565.0 1114.5,574.2 1115.0,566.0 1115.5,564.9 1116.0,562.2 1116.5,565.3 1117.0,564.3 1117.5,568.7 1118.0,559.0 1118.5,564.8 1119.0,567.0 1119.5,563.7 1120.0,569.5 1120.5,566.7 1121.0,574.2 1121.5,574.9 1122.0,588.1 1122.5,582.4 1123.0,585.8 1123.5,591.4 1124.0,590.5 1124.5,594.2 1125.0,598.5 1125.5,602.6 1126.0,599.0 1126.5,603.5 1127.0,604.5 1127.5,609.9 1128.0,612.2 1128.5,612.2 1129.0,612.8 1129.5,619.2 1130.0,609.1 1130.5,618.6 1131.0,614.4 1131.5,606.8 1132.0,614.0 1132.5,609.4 1133.0,616.3 1133.5,611.3 1134.0,624.9 1134.5,622.5 1135.0,636.0 1135.5,631.1 1136.0,638.3 1136.5,636.3 1137.0,643.2 1137.5,638.2 1138.0,645.7 1138.5,650.8 1139.0,647.2 1139.5,642.5 1140.0,637.4 1140.5,637.2 1141.0,637.3 1141.5,635.6 1142.0,642.2 1142.5,640.4 1143.0,644.3 1143.5,643.6 1144.0,649.1 1144.5,658.0 1145.0,656.0 1145.5,661.4 1146.0,657.2 1146.5,662.2 1147.0,663.3 1147.5,668.4 1148.0,669.0 1148.5,666.2 1149.0,670.8 1149.5,669.9 1150.0,663.0 1150.5,668.5 1151.0,672.7 1151.5,664.1 1152.0,671.4 1152.5,669.4 1153.0,667.0 1153.5,667.8 1154.0,662.9 1154.5,669.0 1155.0,667.7 1155.5,663.0 1156.0,670.5 1156.5,668.8 1157.0,679.1 1157.5,674.4 1158.0,678.3 1158.5,679.9 1159.0,675.4 1159.5,677.1 1160.0,678.4 1160.5,675.8 1161.0,681.3 1161.5,679.0 1162.0,676.3 1162.5,681.2 1163.0,677.8 1163.5,681.7 1164.0,680.2 1164.5,679.0 1165.0,676.2 1165.5,676.3 1166.0,678.1 1166.5,678.4 1167.0,667.5 1167.5,673.6 1168.0,678.1 1168.5,676.4 1169.0,674.3 1169.5,676.6 1170.0,688.9 1170.5,677.7 1171.0,683.6 1171.5,688.4 1172.0,677.1 1172.5,691.3 1173.0,677.7 1173.5,687.7 1174.0,693.2 1174.5,679.9 1175.0,685.0 1175.5,686.9 1176.0,683.0 1176.5,686.6 1177.0,680.7 1177.5,680.2 1178.0,678.1 1178.5,680.2 1179.0,681.4 1179.5,682.8 1180.0,678.2 1180.5,674.3 1181.0,676.6 1181.5,676.6 1182.0,677.2 1182.5,681.3 1183.0,678.8 1183.5,683.3 1184.0,680.0 1184.5,679.4 1185.0,677.6 1185.5,682.0 1186.0,678.3 1186.5,677.7 1187.0,673.1 1187.5,674.0 1188.0,673.7 1188.5,677.7 1189.0,668.0 1189.5,677.6 1190.0,675.3 1190.5,672.4 1191.0,672.4 1191.5,678.2 1192.0,677.2 1192.5,666.9 1193.0,672.6 1193.5,670.7 1194.0,667.1 1194.5,670.4 1195.0,675.0 1195.5,671.7 1196.0,673.6 1196.5,680.3 1197.0,674.6 1197.5,673.4 1198.0,674.9 1198.5,676.9 1199.0,666.0 1199.5,670.9 1200.0,667.4 1200.5,663.0 1201.0,672.1 1201.5,671.4 1202.0,670.7 1202.5,669.4 1203.0,672.8 1203.5,673.1 1204.0,680.3 1204.5,671.5 1205.0,678.4 1205.5,677.3 1206.0,670.2 1206.5,675.3 1207.0,669.2 1207.5,676.0 1208.0,671.2 1208.5,664.5 1209.0,661.9 1209.5,659.9 1210.0,659.7 1210.5,664.4 1211.0,658.1 1211.5,669.0 1212.0,668.6 1212.5,659.7 1213.0,668.8 1213.5,674.4 1214.0,664.8 1214.5,669.0 1215.0,658.9 1215.5,655.8 1216.0,660.9 1216.5,647.7 1217.0,658.8 1217.5,654.4 1218.0,652.4 1218.5,655.2 1219.0,656.4 1219.5,662.8 1220.0,663.3 1220.5,663.3 1221.0,664.1 1221.5,663.2 1222.0,669.1 1222.5,657.6 1223.0,671.1 1223.5,665.0 1224.0,655.7 1224.5,662.8 1225.0,655.1 1225.5,655.8 1226.0,650.0 1226.5,654.3 1227.0,658.4 1227.5,657.6 1228.0,659.2 1228.5,654.7 1229.0,659.6 1229.5,650.3 1230.0,652.9 1230.5,642.7 1231.0,659.0 1231.5,652.6 1232.0,648.7 1232.5,651.6 1233.0,655.1 1233.5,646.0 1234.0,651.7 1234.5,646.6 1235.0,664.5 1235.5,664.2 1236.0,662.3 1236.5,666.4 1237.0,665.4 1237.5,659.0 1238.0,664.3 1238.5,665.6 1239.0,663.7 1239.5,660.1 1240.0,657.8 1240.5,672.5 1241.0,665.1 1241.5,667.7 1242.0,660.7 1242.5,670.3 1243.0,669.3 1243.5,665.5 1244.0,675.7 1244.5,671.8 1245.0,676.4 1245.5,677.8 1246.0,675.2 1246.5,681.2 1247.0,687.1 1247.5,677.1 1248.0,677.0 1248.5,676.6 1249.0,682.5 1249.5,677.2 1250.0,681.0 1250.5,686.3 1251.0,679.4 1251.5,692.5 1252.0,688.0 1252.5,687.3 1253.0,693.2 1253.5,686.7 1254.0,677.5 1254.5,681.4 1255.0,678.7 1255.5,684.5 1256.0,685.2 1256.5,687.1 1257.0,694.5 1257.5,684.4 1258.0,691.8 1258.5,687.9 1259.0,687.6 1259.5,678.1 1260.0,677.7 1260.5,680.9 1261.0,686.3 1261.5,674.4 1262.0,675.4 1262.5,679.9 1263.0,682.8 1263.5,679.9 1264.0,683.6 1264.5,677.3 1265.0,691.4 1265.5,684.0 1266.0,686.8 1266.5,698.3 1267.0,686.5 1267.5,685.3 1268.0,688.0 1268.5,700.5 1269.0,688.8 1269.5,694.6 1270.0,702.6 1270.5,700.6 1271.0,706.9 1271.5,704.9 1272.0,703.9 1272.5,704.9 1273.0,700.6 1273.5,700.0 1274.0,707.9 1274.5,709.7 1275.0,709.5 1275.5,710.9 1276.0,712.8 1276.5,705.9 1277.0,708.7 1277.5,705.8 1278.0,700.9 1278.5,709.4 1279.0,705.4 1279.5,707.1 1280.0,707.2 1280.5,700.6 1281.0,709.8 1281.5,705.5 1282.0,709.4 1282.5,713.8 1283.0,707.2 1283.5,708.1 1284.0,712.2 1284.5,716.2 1285.0,716.4 1285.5,704.4 1286.0,718.2 1286.5,711.4 1287.0,715.8 1287.5,709.1 1288.0,711.1 1288.5,716.0 1289.0,707.5 1289.5,717.5 1290.0,711.8 1290.5,714.4 1291.0,713.0 1291.5,709.4 1292.0,721.5 1292.5,720.0 1293.0,713.7 1293.5,705.5 1294.0,714.0 1294.5,714.2 1295.0,720.2 1295.5,718.4 1296.0,727.6 1296.5,722.4 1297.0,721.8 1297.5,717.3 1298.0,713.9 1298.5,715.5 1299.0,714.9 1299.5,714.2 1300.0,711.3 1300.5,707.5 1301.0,703.5 1301.5,703.5 1302.0,700.9 1302.5,700.9 1303.0,706.1 1303.5,708.3 1304.0,706.7 1304.5,709.8 1305.0,715.6 1305.5,715.9 1306.0,730.9 1306.5,721.1 1307.0,719.5 1307.5,714.8 1308.0,722.9 1308.5,726.3 1309.0,720.5 1309.5,727.1 1310.0,717.8 1310.5,719.3 1311.0,716.5 1311.5,711.5 1312.0,706.1 1312.5,706.3 1313.0,701.7 1313.5,712.3 1314.0,712.0 1314.5,711.4 1315.0,711.3 1315.5,718.7 1316.0,712.3 1316.5,722.2 1317.0,718.9 1317.5,710.3 1318.0,710.9 1318.5,713.3 1319.0,715.6 1319.5,708.1 1320.0,710.5 1320.5,731.1 1321.0,719.0 1321.5,719.7 1322.0,723.8 1322.5,717.1 1323.0,712.2 1323.5,708.3 1324.0,715.1 1324.5,706.6 1325.0,713.7 1325.5,703.4 1326.0,709.9 1326.5,712.2 1327.0,707.8 1327.5,711.0 1328.0,710.5 1328.5,715.3 1329.0,711.1 1329.5,716.9 1330.0,725.4 1330.5,727.2 1331.0,730.1 1331.5,724.0 1332.0,719.5 1332.5,720.2 1333.0,719.2 1333.5,714.9 1334.0,717.4 1334.5,707.5 1335.0,708.6 1335.5,703.6 1336.0,709.0 1336.5,717.3 1337.0,706.5 1337.5,720.0 1338.0,721.3 1338.5,726.0 1339.0,721.0 1339.5,728.2 1340.0,730.1 1340.5,732.8 1341.0,733.0 1341.5,727.3 1342.0,723.6 1342.5,726.6 1343.0,733.7 1343.5,724.9 1344.0,723.2 1344.5,723.4 1345.0,723.1 1345.5,730.4 1346.0,723.1 1346.5,721.6 1347.0,726.2 1347.5,722.8"/>

</g>
<g stroke="#000" stroke-width="3" fill="none">
<line x1="207.5" y1="22" x2="207.5" y2="942"/>
<line x1="206" y1="922.4" x2="1348.4" y2="922.4"/>
<line x1="190.5" y1="861.5" x2="207.5" y2="861.5"/>
<line x1="190.5" y1="741.8" x2="207.5" y2="741.8"/>
<line x1="190.5" y1="622.1" x2="207.5" y2="622.1"/>
<line x1="190.5" y1="502.4" x2="207.5" y2="502.4"/>
<line x1="190.5" y1="382.7" x2="207.5" y2="382.7"/>
<line x1="190.5" y1="263.0" x2="207.5" y2="263.0"/>
<line x1="190.5" y1="143.3" x2="207.5" y2="143.3"/>
<line x1="190.5" y1="23.6" x2="207.5" y2="23.6"/>
<line x1="199" y1="921.4" x2="207.5" y2="921.4"/>
<line x1="199" y1="801.7" x2="207.5" y2="801.7"/>
<line x1="199" y1="682.0" x2="207.5" y2="682.0"/>
<line x1="199" y1="562.2" x2="207.5" y2="562.2"/>
<line x1="199" y1="442.6" x2="207.5" y2="442.6"/>
<line x1="199" y1="322.9" x2="207.5" y2="322.9"/>
<line x1="199" y1="203.2" x2="207.5" y2="203.2"/>
<line x1="199" y1="83.5" x2="207.5" y2="83.5"/>
<line x1="397.4" y1="922.4" x2="397.4" y2="942"/>
<line x1="587.3" y1="922.4" x2="587.3" y2="942"/>
<line x1="777.2" y1="922.4" x2="777.2" y2="942"/>
<line x1="967.1" y1="922.4" x2="967.1" y2="942"/>
<line x1="1157.0" y1="922.4" x2="1157.0" y2="942"/>
<line x1="1346.9" y1="922.4" x2="1346.9" y2="942"/>
<line x1="302.4" y1="922.4" x2="302.4" y2="932.5"/>
<line x1="492.4" y1="922.4" x2="492.4" y2="932.5"/>
<line x1="682.2" y1="922.4" x2="682.2" y2="932.5"/>
<line x1="872.1" y1="922.4" x2="872.1" y2="932.5"/>
<line x1="1062.0" y1="922.4" x2="1062.0" y2="932.5"/>
<line x1="1252.0" y1="922.4" x2="1252.0" y2="932.5"/>
</g>
<g font-size="58.8">
<text x="0" y="0" transform="translate(179.4 878.5) scale(0.889 1)" text-anchor="end">200</text>
<text x="0" y="0" transform="translate(179.4 758.8) scale(0.889 1)" text-anchor="end">300</text>
<text x="0" y="0" transform="translate(179.4 639.1) scale(0.889 1)" text-anchor="end">400</text>
<text x="0" y="0" transform="translate(179.4 519.4) scale(0.889 1)" text-anchor="end">500</text>
<text x="0" y="0" transform="translate(179.4 399.7) scale(0.889 1)" text-anchor="end">600</text>
<text x="0" y="0" transform="translate(179.4 280.0) scale(0.889 1)" text-anchor="end">700</text>
<text x="0" y="0" transform="translate(179.4 160.3) scale(0.889 1)" text-anchor="end">800</text>
<text x="0" y="0" transform="translate(179.4 40.6) scale(0.889 1)" text-anchor="end">900</text>

<text x="0" y="0" transform="translate(209.0 995.5) scale(0.889 1)" text-anchor="middle">800</text>
<text x="0" y="0" transform="translate(398.9 995.5) scale(0.889 1)" text-anchor="middle">1200</text>
<text x="0" y="0" transform="translate(588.8 995.5) scale(0.889 1)" text-anchor="middle">1600</text>
<text x="0" y="0" transform="translate(778.7 995.5) scale(0.889 1)" text-anchor="middle">2000</text>
<text x="0" y="0" transform="translate(968.6 995.5) scale(0.889 1)" text-anchor="middle">2400</text>
<text x="0" y="0" transform="translate(1158.5 995.5) scale(0.889 1)" text-anchor="middle">2800</text>
<text x="0" y="0" transform="translate(1348.4 995.5) scale(0.889 1)" text-anchor="middle">3200</text>

</g>
<g>
<line x1="831.5" y1="178" x2="926.4" y2="178" stroke="#000" stroke-width="3"/>
<line x1="831.5" y1="246.8" x2="926.4" y2="246.8" stroke="#000" stroke-width="3" stroke-dasharray="11.5 9.7"/>
<line x1="831.5" y1="316.8" x2="926.4" y2="316.8" stroke="#000" stroke-width="3" stroke-dasharray="4.5 8.1"/>
<g font-size="58.5">
<text transform="translate(935.2 193.3) scale(0.897 1)">Sample No 1</text>
<text transform="translate(935.2 262) scale(0.897 1)">Sample No 3</text>
<text transform="translate(935.2 331) scale(0.897 1)">Sample No 4</text>
</g>
</g>
<text transform="translate(532 1094) scale(0.955 1)" font-size="71">Raman shift, cm<tspan font-size="52" dx="4" dy="-22.5">-</tspan><tspan font-size="52" dx="-2" dy="-1.5">1</tspan></text>
<text transform="translate(52 679.5) rotate(-90) scale(1.043 0.97)" font-size="71.5">Intensity, a.u.</text>
</svg>
</body></html>
